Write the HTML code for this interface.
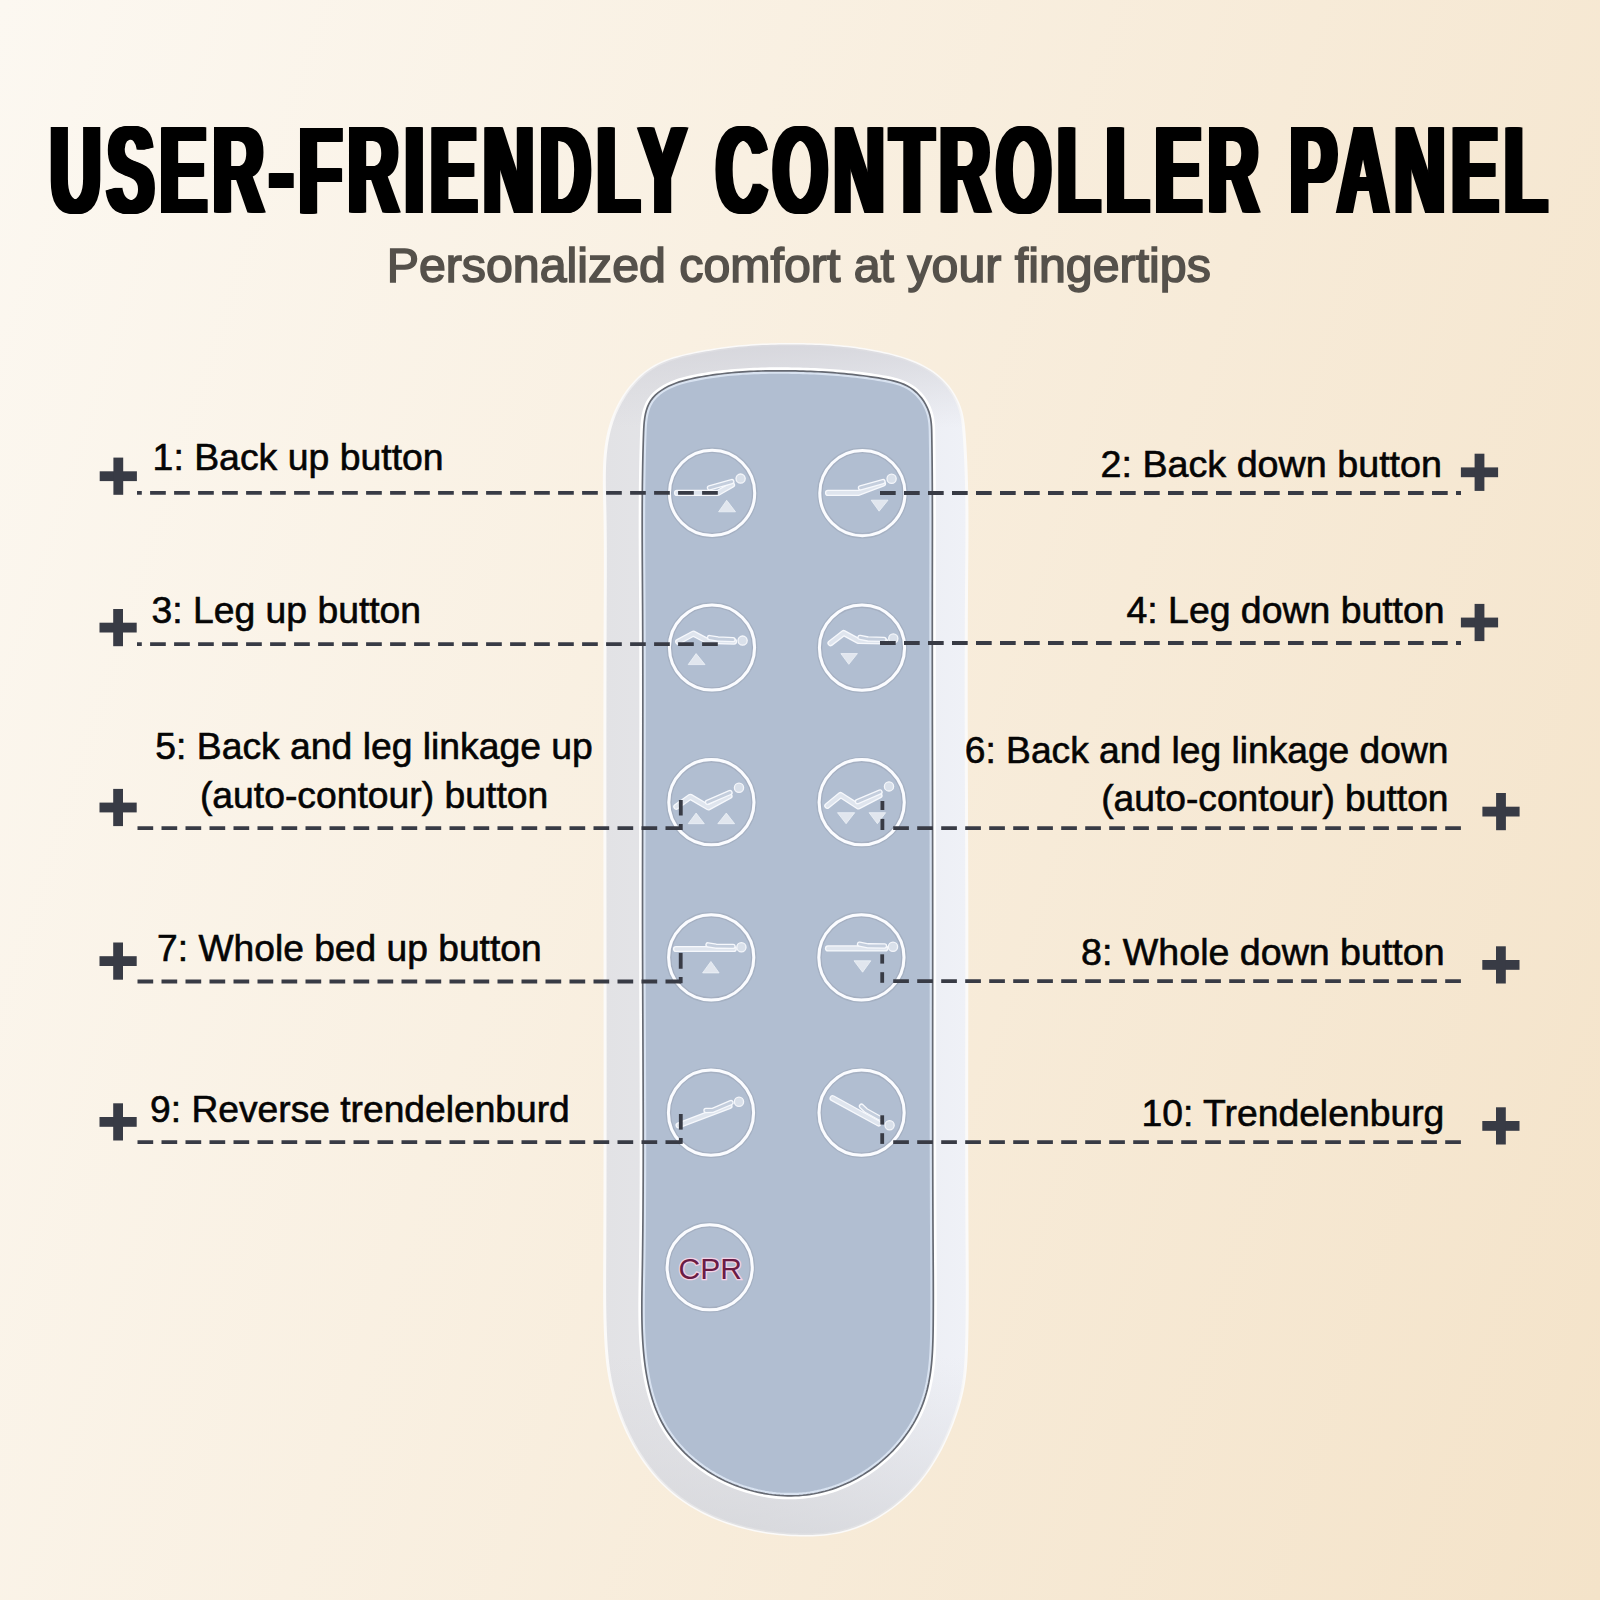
<!DOCTYPE html>
<html><head><meta charset="utf-8"><title>User-Friendly Controller Panel</title>
<style>
html,body{margin:0;padding:0;width:1600px;height:1600px;overflow:hidden}
body{background:linear-gradient(107.8deg,#fcf8f1 0%,#f4e3c9 100%);font-family:"Liberation Sans",sans-serif}
svg{position:absolute;left:0;top:0;display:block}
</style></head><body>
<svg width="1600" height="1600" viewBox="0 0 1600 1600">
<defs>
<linearGradient id="fr" x1="0" y1="0" x2="1" y2="0">
<stop offset="0" stop-color="#e2e2e5"/><stop offset="0.45" stop-color="#e6e7eb"/><stop offset="1" stop-color="#eff1f7"/>
</linearGradient>
<linearGradient id="frv" x1="0" y1="0" x2="0" y2="1">
<stop offset="0" stop-color="#d3d3d9" stop-opacity="0.8"/><stop offset="0.07" stop-color="#d6d6dc" stop-opacity="0"/>
<stop offset="0.85" stop-color="#d6d6dc" stop-opacity="0"/><stop offset="1" stop-color="#cfd0d4" stop-opacity="0.6"/>
</linearGradient>
<clipPath id="inclip"><path d="M788.05,370.84 L791.84,370.89 L795.61,370.96 L799.38,371.05 L803.15,371.15 L806.91,371.28 L810.67,371.42 L814.42,371.58 L818.17,371.77 L821.92,371.97 L825.66,372.20 L829.41,372.45 L833.16,372.72 L836.90,373.02 L840.65,373.34 L844.39,373.68 L848.14,374.05 L851.89,374.44 L855.65,374.86 L859.41,375.31 L863.17,375.78 L866.94,376.28 L870.71,376.81 L874.49,377.37 L878.27,377.96 L882.06,378.58 L885.85,379.24 L889.61,379.99 L893.33,380.84 L896.99,381.84 L900.56,383.01 L904.03,384.38 L907.38,385.99 L910.58,387.87 L913.62,390.04 L916.48,392.49 L919.14,395.21 L921.59,398.14 L923.80,401.28 L925.75,404.58 L927.43,408.02 L928.82,411.57 L929.91,415.19 L930.68,418.87 L931.19,422.59 L931.50,426.34 L931.67,430.11 L931.75,433.89 L931.82,437.67 L931.87,441.45 L931.93,445.24 L931.98,449.02 L932.02,452.80 L932.07,456.58 L932.11,460.37 L932.15,464.15 L932.18,467.93 L932.21,471.71 L932.24,475.49 L932.26,479.27 L932.29,483.05 L932.31,486.84 L932.33,490.62 L932.34,494.40 L932.36,498.18 L932.37,501.96 L932.38,505.74 L932.38,509.51 L932.39,513.29 L932.40,517.07 L932.40,520.85 L932.40,524.63 L932.40,528.41 L932.40,532.19 L932.40,535.97 L932.40,539.75 L932.39,543.52 L932.39,547.30 L932.38,551.08 L932.38,554.86 L932.37,558.64 L932.37,562.41 L932.36,566.19 L932.35,569.97 L932.35,573.75 L932.34,577.52 L932.34,581.30 L932.33,585.08 L932.33,588.86 L932.32,592.63 L932.32,596.41 L932.31,600.19 L932.31,603.97 L932.31,607.74 L932.31,611.52 L932.31,615.30 L932.30,619.07 L932.30,622.85 L932.30,626.63 L932.30,630.40 L932.30,634.18 L932.30,637.96 L932.30,641.74 L932.31,645.51 L932.31,649.29 L932.31,653.07 L932.31,656.84 L932.31,660.62 L932.32,664.40 L932.32,668.17 L932.32,671.95 L932.33,675.73 L932.33,679.50 L932.33,683.28 L932.34,687.06 L932.34,690.83 L932.35,694.61 L932.35,698.39 L932.36,702.16 L932.36,705.94 L932.37,709.72 L932.37,713.49 L932.38,717.27 L932.38,721.05 L932.39,724.82 L932.40,728.60 L932.40,732.38 L932.41,736.15 L932.42,739.93 L932.42,743.71 L932.43,747.48 L932.44,751.26 L932.44,755.04 L932.45,758.81 L932.46,762.59 L932.46,766.37 L932.47,770.14 L932.48,773.92 L932.48,777.70 L932.49,781.47 L932.50,785.25 L932.51,789.03 L932.51,792.80 L932.52,796.58 L932.53,800.36 L932.53,804.14 L932.54,807.91 L932.55,811.69 L932.56,815.47 L932.56,819.24 L932.57,823.02 L932.58,826.80 L932.58,830.58 L932.59,834.35 L932.60,838.13 L932.60,841.91 L932.61,845.69 L932.61,849.46 L932.62,853.24 L932.63,857.02 L932.63,860.80 L932.64,864.57 L932.64,868.35 L932.65,872.13 L932.65,875.91 L932.66,879.69 L932.66,883.46 L932.66,887.24 L932.67,891.02 L932.67,894.80 L932.67,898.58 L932.68,902.36 L932.68,906.14 L932.68,909.91 L932.69,913.69 L932.69,917.47 L932.69,921.25 L932.69,925.03 L932.69,928.81 L932.69,932.59 L932.69,936.37 L932.69,940.15 L932.69,943.93 L932.69,947.70 L932.69,951.48 L932.69,955.26 L932.69,959.04 L932.69,962.82 L932.69,966.60 L932.69,970.38 L932.69,974.16 L932.69,977.94 L932.69,981.72 L932.68,985.50 L932.68,989.28 L932.68,993.06 L932.68,996.84 L932.68,1000.62 L932.68,1004.40 L932.67,1008.18 L932.67,1011.96 L932.67,1015.74 L932.67,1019.52 L932.67,1023.29 L932.67,1027.07 L932.66,1030.85 L932.66,1034.63 L932.66,1038.41 L932.66,1042.19 L932.66,1045.97 L932.66,1049.75 L932.66,1053.53 L932.66,1057.31 L932.66,1061.08 L932.66,1064.86 L932.66,1068.64 L932.66,1072.42 L932.66,1076.20 L932.66,1079.98 L932.66,1083.76 L932.66,1087.53 L932.66,1091.31 L932.66,1095.09 L932.66,1098.87 L932.66,1102.64 L932.67,1106.42 L932.67,1110.20 L932.67,1113.98 L932.68,1117.75 L932.68,1121.53 L932.68,1125.31 L932.69,1129.08 L932.69,1132.86 L932.70,1136.64 L932.70,1140.41 L932.71,1144.19 L932.72,1147.96 L932.72,1151.74 L932.73,1155.51 L932.74,1159.29 L932.75,1163.06 L932.76,1166.84 L932.77,1170.61 L932.78,1174.39 L932.79,1178.16 L932.80,1181.93 L932.81,1185.71 L932.82,1189.48 L932.84,1193.25 L932.85,1197.03 L932.86,1200.80 L932.88,1204.57 L932.89,1208.34 L932.91,1212.12 L932.93,1215.89 L932.94,1219.66 L932.96,1223.43 L932.98,1227.20 L933.00,1230.97 L933.02,1234.74 L933.04,1238.51 L933.06,1242.28 L933.09,1246.05 L933.11,1249.82 L933.13,1253.59 L933.16,1257.36 L933.18,1261.13 L933.20,1264.89 L933.23,1268.67 L933.25,1272.44 L933.27,1276.21 L933.28,1279.98 L933.30,1283.76 L933.31,1287.54 L933.32,1291.32 L933.32,1295.10 L933.33,1298.89 L933.32,1302.68 L933.31,1306.47 L933.30,1310.27 L933.28,1314.07 L933.26,1317.87 L933.22,1321.68 L933.19,1325.49 L933.14,1329.31 L933.08,1333.13 L933.00,1336.95 L932.90,1340.77 L932.77,1344.59 L932.61,1348.40 L932.42,1352.20 L932.18,1356.00 L931.89,1359.78 L931.55,1363.55 L931.15,1367.31 L930.69,1371.05 L930.16,1374.77 L929.56,1378.47 L928.88,1382.15 L928.12,1385.80 L927.27,1389.43 L926.33,1393.03 L925.29,1396.59 L924.15,1400.13 L922.91,1403.63 L921.55,1407.10 L920.10,1410.52 L918.54,1413.91 L916.89,1417.26 L915.13,1420.56 L913.29,1423.82 L911.35,1427.03 L909.32,1430.19 L907.20,1433.30 L905.00,1436.36 L902.72,1439.36 L900.35,1442.31 L897.91,1445.19 L895.39,1448.02 L892.79,1450.79 L890.12,1453.49 L887.39,1456.13 L884.58,1458.69 L881.71,1461.19 L878.78,1463.62 L875.78,1465.98 L872.73,1468.26 L869.62,1470.46 L866.45,1472.58 L863.23,1474.63 L859.97,1476.59 L856.65,1478.47 L853.29,1480.26 L849.89,1481.96 L846.44,1483.57 L842.96,1485.09 L839.44,1486.52 L835.88,1487.85 L832.29,1489.09 L828.68,1490.23 L825.03,1491.26 L821.36,1492.19 L817.67,1493.02 L813.95,1493.74 L810.22,1494.36 L806.47,1494.86 L802.70,1495.26 L798.93,1495.55 L795.14,1495.74 L791.35,1495.83 L787.56,1495.81 L783.76,1495.69 L779.97,1495.47 L776.18,1495.15 L772.40,1494.74 L768.63,1494.23 L764.87,1493.62 L761.12,1492.91 L757.39,1492.12 L753.68,1491.23 L749.99,1490.24 L746.33,1489.17 L742.70,1488.01 L739.09,1486.76 L735.52,1485.42 L731.98,1484.00 L728.48,1482.49 L725.02,1480.90 L721.61,1479.22 L718.23,1477.46 L714.91,1475.62 L711.64,1473.70 L708.42,1471.71 L705.26,1469.63 L702.15,1467.48 L699.11,1465.25 L696.12,1462.95 L693.21,1460.58 L690.36,1458.13 L687.59,1455.61 L684.89,1453.03 L682.26,1450.37 L679.72,1447.65 L677.25,1444.85 L674.87,1442.00 L672.58,1439.07 L670.37,1436.09 L668.26,1433.04 L666.24,1429.93 L664.32,1426.76 L662.50,1423.53 L660.78,1420.25 L659.15,1416.90 L657.63,1413.51 L656.20,1410.07 L654.85,1406.58 L653.60,1403.05 L652.43,1399.47 L651.34,1395.87 L650.33,1392.22 L649.39,1388.55 L648.52,1384.85 L647.73,1381.13 L647.00,1377.39 L646.33,1373.62 L645.72,1369.84 L645.17,1366.06 L644.67,1362.26 L644.22,1358.45 L643.82,1354.65 L643.47,1350.84 L643.16,1347.04 L642.88,1343.24 L642.65,1339.44 L642.45,1335.65 L642.28,1331.86 L642.14,1328.07 L642.03,1324.29 L641.95,1320.51 L641.89,1316.73 L641.85,1312.95 L641.84,1309.17 L641.84,1305.40 L641.85,1301.62 L641.89,1297.85 L641.93,1294.08 L641.98,1290.31 L642.04,1286.54 L642.10,1282.77 L642.16,1279.01 L642.23,1275.24 L642.29,1271.47 L642.36,1267.70 L642.42,1263.93 L642.47,1260.16 L642.53,1256.39 L642.58,1252.62 L642.63,1248.85 L642.68,1245.08 L642.72,1241.31 L642.77,1237.54 L642.81,1233.77 L642.85,1230.00 L642.88,1226.22 L642.92,1222.45 L642.95,1218.68 L642.98,1214.91 L643.01,1211.13 L643.04,1207.36 L643.06,1203.59 L643.08,1199.81 L643.11,1196.04 L643.13,1192.27 L643.14,1188.49 L643.16,1184.72 L643.18,1180.95 L643.19,1177.17 L643.20,1173.40 L643.21,1169.62 L643.22,1165.85 L643.23,1162.07 L643.23,1158.30 L643.24,1154.52 L643.24,1150.74 L643.24,1146.97 L643.24,1143.19 L643.24,1139.42 L643.24,1135.64 L643.24,1131.86 L643.24,1128.09 L643.23,1124.31 L643.23,1120.53 L643.22,1116.76 L643.21,1112.98 L643.20,1109.20 L643.19,1105.42 L643.18,1101.65 L643.17,1097.87 L643.16,1094.09 L643.15,1090.31 L643.14,1086.53 L643.12,1082.76 L643.11,1078.98 L643.09,1075.20 L643.08,1071.42 L643.06,1067.64 L643.05,1063.86 L643.03,1060.08 L643.02,1056.31 L643.00,1052.53 L642.98,1048.75 L642.96,1044.97 L642.95,1041.19 L642.93,1037.41 L642.91,1033.63 L642.89,1029.85 L642.88,1026.07 L642.86,1022.29 L642.84,1018.51 L642.82,1014.74 L642.80,1010.96 L642.79,1007.18 L642.77,1003.40 L642.75,999.62 L642.74,995.84 L642.72,992.06 L642.70,988.28 L642.69,984.50 L642.67,980.72 L642.66,976.94 L642.65,973.16 L642.63,969.38 L642.62,965.60 L642.61,961.82 L642.59,958.04 L642.58,954.26 L642.57,950.48 L642.56,946.70 L642.56,942.92 L642.55,939.14 L642.54,935.36 L642.54,931.58 L642.53,927.80 L642.53,924.03 L642.52,920.25 L642.52,916.47 L642.52,912.69 L642.52,908.91 L642.52,905.13 L642.52,901.35 L642.52,897.57 L642.52,893.79 L642.52,890.01 L642.52,886.23 L642.53,882.45 L642.53,878.67 L642.53,874.90 L642.54,871.12 L642.54,867.34 L642.55,863.56 L642.55,859.78 L642.56,856.00 L642.57,852.22 L642.57,848.44 L642.58,844.67 L642.59,840.89 L642.60,837.11 L642.60,833.33 L642.61,829.55 L642.62,825.77 L642.63,822.00 L642.64,818.22 L642.65,814.44 L642.65,810.66 L642.66,806.88 L642.67,803.11 L642.68,799.33 L642.69,795.55 L642.70,791.77 L642.71,788.00 L642.72,784.22 L642.73,780.44 L642.73,776.66 L642.74,772.89 L642.75,769.11 L642.76,765.33 L642.77,761.55 L642.77,757.78 L642.78,754.00 L642.79,750.22 L642.79,746.45 L642.80,742.67 L642.81,738.89 L642.81,735.12 L642.82,731.34 L642.82,727.56 L642.83,723.79 L642.83,720.01 L642.83,716.23 L642.84,712.46 L642.84,708.68 L642.84,704.91 L642.84,701.13 L642.84,697.35 L642.84,693.58 L642.84,689.80 L642.84,686.03 L642.83,682.25 L642.83,678.48 L642.83,674.70 L642.82,670.93 L642.82,667.15 L642.81,663.38 L642.80,659.60 L642.80,655.83 L642.79,652.05 L642.78,648.28 L642.77,644.50 L642.75,640.73 L642.74,636.96 L642.73,633.18 L642.71,629.41 L642.69,625.63 L642.68,621.86 L642.66,618.09 L642.64,614.31 L642.62,610.54 L642.60,606.77 L642.57,602.99 L642.55,599.22 L642.52,595.45 L642.50,591.67 L642.47,587.90 L642.45,584.13 L642.42,580.35 L642.40,576.58 L642.37,572.81 L642.35,569.03 L642.32,565.26 L642.30,561.48 L642.28,557.71 L642.26,553.93 L642.24,550.15 L642.23,546.38 L642.21,542.60 L642.20,538.82 L642.19,535.04 L642.18,531.26 L642.18,527.48 L642.18,523.70 L642.18,519.92 L642.19,516.13 L642.20,512.35 L642.21,508.57 L642.23,504.78 L642.25,500.99 L642.28,497.20 L642.31,493.41 L642.34,489.62 L642.38,485.83 L642.43,482.04 L642.48,478.24 L642.54,474.45 L642.60,470.65 L642.67,466.85 L642.74,463.05 L642.82,459.25 L642.91,455.45 L643.00,451.64 L643.11,447.84 L643.22,444.03 L643.33,440.22 L643.45,436.40 L643.59,432.59 L643.75,428.79 L643.98,425.01 L644.31,421.27 L644.79,417.60 L645.45,414.01 L646.33,410.52 L647.46,407.14 L648.89,403.90 L650.66,400.82 L652.80,397.90 L655.33,395.18 L658.22,392.65 L661.38,390.33 L664.76,388.21 L668.29,386.32 L671.90,384.66 L675.57,383.20 L679.28,381.93 L683.01,380.82 L686.77,379.85 L690.54,378.98 L694.31,378.19 L698.06,377.45 L701.80,376.76 L705.53,376.12 L709.25,375.52 L712.96,374.96 L716.67,374.44 L720.37,373.97 L724.07,373.53 L727.78,373.13 L731.49,372.76 L735.20,372.43 L738.92,372.14 L742.66,371.87 L746.40,371.64 L750.16,371.44 L753.93,371.27 L757.71,371.13 L761.49,371.01 L765.28,370.92 L769.08,370.85 L772.88,370.81 L776.68,370.79 L780.47,370.78 L784.27,370.80Z"/></clipPath>
</defs>
<defs><text id="tt" x="0" y="213.4" font-family="Liberation Sans" font-weight="bold" font-size="124.2" letter-spacing="10.0" transform="translate(46.6,0) scale(0.57,1)">USER-FRIENDLY CONTROLLER PANEL</text></defs>
<use href="#tt"/><use href="#tt" x="1"/><use href="#tt" x="2"/><use href="#tt" x="3"/><use href="#tt" x="4"/><use href="#tt" x="5"/><use href="#tt" x="6"/><use href="#tt" x="7"/>
<text x="386.7" y="282.3" font-family="Liberation Sans" font-size="48.3" fill="#55514b" stroke="#55514b" stroke-width="1.6">Personalized comfort at your fingertips</text>
<path d="M787.16,344.48 L791.21,344.46 L795.26,344.47 L799.30,344.51 L803.34,344.56 L807.37,344.65 L811.39,344.77 L815.41,344.92 L819.43,345.09 L823.45,345.31 L827.47,345.55 L831.48,345.84 L835.50,346.16 L839.51,346.51 L843.53,346.91 L847.55,347.35 L851.58,347.84 L855.60,348.36 L859.64,348.94 L863.68,349.55 L867.72,350.22 L871.77,350.94 L875.83,351.70 L879.90,352.52 L883.98,353.40 L888.06,354.33 L892.12,355.34 L896.17,356.42 L900.19,357.58 L904.17,358.84 L908.10,360.19 L911.97,361.65 L915.78,363.22 L919.51,364.91 L923.15,366.74 L926.69,368.69 L930.14,370.79 L933.46,373.05 L936.66,375.46 L939.73,378.03 L942.65,380.78 L945.42,383.71 L948.03,386.80 L950.46,390.05 L952.71,393.44 L954.77,396.96 L956.63,400.59 L958.27,404.31 L959.69,408.12 L960.88,412.00 L961.83,415.94 L962.57,419.91 L963.15,423.93 L963.59,427.97 L963.95,432.03 L964.26,436.09 L964.54,440.16 L964.81,444.23 L965.06,448.29 L965.28,452.36 L965.49,456.42 L965.69,460.49 L965.86,464.56 L966.03,468.62 L966.17,472.69 L966.30,476.76 L966.42,480.82 L966.52,484.89 L966.61,488.96 L966.69,493.03 L966.76,497.09 L966.82,501.16 L966.86,505.23 L966.90,509.30 L966.93,513.37 L966.94,517.43 L966.95,521.50 L966.96,525.57 L966.95,529.64 L966.94,533.71 L966.93,537.78 L966.91,541.84 L966.89,545.91 L966.86,549.98 L966.83,554.05 L966.79,558.12 L966.76,562.19 L966.72,566.25 L966.69,570.32 L966.65,574.39 L966.62,578.46 L966.58,582.53 L966.55,586.60 L966.52,590.67 L966.49,594.74 L966.46,598.80 L966.43,602.87 L966.41,606.94 L966.39,611.01 L966.36,615.08 L966.34,619.15 L966.33,623.22 L966.31,627.28 L966.29,631.35 L966.28,635.42 L966.27,639.49 L966.25,643.56 L966.24,647.63 L966.23,651.70 L966.23,655.77 L966.22,659.83 L966.21,663.90 L966.21,667.97 L966.20,672.04 L966.20,676.11 L966.20,680.18 L966.20,684.25 L966.20,688.32 L966.20,692.38 L966.20,696.45 L966.21,700.52 L966.21,704.59 L966.21,708.66 L966.22,712.73 L966.23,716.80 L966.23,720.86 L966.24,724.93 L966.25,729.00 L966.26,733.07 L966.27,737.14 L966.28,741.21 L966.29,745.28 L966.30,749.35 L966.31,753.41 L966.32,757.48 L966.33,761.55 L966.35,765.62 L966.36,769.69 L966.37,773.76 L966.39,777.83 L966.40,781.89 L966.42,785.96 L966.43,790.03 L966.45,794.10 L966.46,798.17 L966.47,802.24 L966.49,806.31 L966.50,810.38 L966.52,814.44 L966.53,818.51 L966.55,822.58 L966.56,826.65 L966.58,830.72 L966.59,834.79 L966.61,838.86 L966.62,842.92 L966.64,846.99 L966.65,851.06 L966.66,855.13 L966.68,859.20 L966.69,863.27 L966.70,867.34 L966.71,871.41 L966.72,875.47 L966.73,879.54 L966.75,883.61 L966.76,887.68 L966.76,891.75 L966.77,895.82 L966.78,899.89 L966.79,903.95 L966.80,908.02 L966.80,912.09 L966.81,916.16 L966.81,920.23 L966.82,924.30 L966.82,928.37 L966.82,932.43 L966.82,936.50 L966.83,940.57 L966.83,944.64 L966.83,948.71 L966.83,952.78 L966.83,956.85 L966.82,960.91 L966.82,964.98 L966.82,969.05 L966.82,973.12 L966.82,977.19 L966.81,981.26 L966.81,985.33 L966.81,989.39 L966.80,993.46 L966.80,997.53 L966.79,1001.60 L966.79,1005.67 L966.78,1009.74 L966.78,1013.81 L966.77,1017.87 L966.77,1021.94 L966.76,1026.01 L966.76,1030.08 L966.75,1034.15 L966.75,1038.22 L966.74,1042.29 L966.74,1046.36 L966.73,1050.42 L966.73,1054.49 L966.72,1058.56 L966.72,1062.63 L966.71,1066.70 L966.71,1070.77 L966.71,1074.84 L966.70,1078.90 L966.70,1082.97 L966.69,1087.04 L966.69,1091.11 L966.69,1095.18 L966.69,1099.25 L966.68,1103.32 L966.68,1107.38 L966.68,1111.45 L966.68,1115.52 L966.68,1119.59 L966.68,1123.66 L966.68,1127.73 L966.68,1131.80 L966.69,1135.87 L966.69,1139.93 L966.69,1144.00 L966.69,1148.07 L966.70,1152.14 L966.70,1156.21 L966.71,1160.28 L966.72,1164.35 L966.72,1168.41 L966.73,1172.48 L966.74,1176.55 L966.75,1180.62 L966.76,1184.69 L966.77,1188.76 L966.79,1192.83 L966.80,1196.90 L966.81,1200.96 L966.83,1205.03 L966.85,1209.10 L966.86,1213.17 L966.88,1217.24 L966.90,1221.31 L966.92,1225.38 L966.94,1229.45 L966.97,1233.51 L966.99,1237.58 L967.02,1241.65 L967.04,1245.72 L967.07,1249.79 L967.10,1253.86 L967.12,1257.93 L967.15,1262.00 L967.17,1266.07 L967.19,1270.13 L967.21,1274.20 L967.22,1278.27 L967.24,1282.34 L967.24,1286.41 L967.25,1290.48 L967.25,1294.55 L967.24,1298.62 L967.22,1302.69 L967.21,1306.76 L967.18,1310.82 L967.14,1314.89 L967.10,1318.96 L967.05,1323.03 L966.99,1327.10 L966.92,1331.17 L966.84,1335.24 L966.75,1339.31 L966.65,1343.38 L966.53,1347.45 L966.39,1351.51 L966.21,1355.57 L965.99,1359.63 L965.73,1363.68 L965.40,1367.73 L965.02,1371.76 L964.56,1375.79 L964.02,1379.80 L963.40,1383.80 L962.68,1387.79 L961.86,1391.76 L960.93,1395.72 L959.91,1399.66 L958.80,1403.58 L957.62,1407.48 L956.36,1411.37 L955.05,1415.24 L953.67,1419.09 L952.24,1422.92 L950.76,1426.73 L949.21,1430.52 L947.60,1434.27 L945.94,1438.00 L944.21,1441.69 L942.41,1445.35 L940.55,1448.98 L938.63,1452.56 L936.64,1456.11 L934.57,1459.61 L932.44,1463.06 L930.23,1466.47 L927.95,1469.83 L925.60,1473.14 L923.16,1476.39 L920.66,1479.59 L918.07,1482.73 L915.40,1485.80 L912.65,1488.82 L909.82,1491.77 L906.90,1494.65 L903.91,1497.45 L900.84,1500.19 L897.70,1502.84 L894.48,1505.41 L891.20,1507.90 L887.86,1510.29 L884.46,1512.60 L880.99,1514.80 L877.48,1516.91 L873.91,1518.91 L870.29,1520.80 L866.63,1522.59 L862.92,1524.26 L859.17,1525.81 L855.39,1527.24 L851.57,1528.54 L847.72,1529.72 L843.84,1530.76 L839.94,1531.68 L836.01,1532.47 L832.06,1533.14 L828.09,1533.70 L824.10,1534.16 L820.09,1534.51 L816.06,1534.77 L812.02,1534.95 L807.97,1535.04 L803.90,1535.05 L799.82,1535.00 L795.73,1534.87 L791.63,1534.69 L787.53,1534.43 L783.43,1534.11 L779.33,1533.72 L775.23,1533.27 L771.13,1532.75 L767.04,1532.15 L762.96,1531.49 L758.89,1530.76 L754.84,1529.95 L750.80,1529.08 L746.78,1528.13 L742.79,1527.11 L738.81,1526.02 L734.87,1524.86 L730.95,1523.62 L727.06,1522.30 L723.20,1520.91 L719.38,1519.45 L715.60,1517.90 L711.85,1516.28 L708.15,1514.59 L704.49,1512.81 L700.88,1510.96 L697.32,1509.03 L693.81,1507.01 L690.36,1504.92 L686.96,1502.75 L683.62,1500.49 L680.34,1498.15 L677.13,1495.73 L673.98,1493.23 L670.90,1490.64 L667.89,1487.97 L664.95,1485.21 L662.08,1482.38 L659.28,1479.47 L656.55,1476.48 L653.90,1473.43 L651.31,1470.30 L648.80,1467.11 L646.36,1463.86 L643.99,1460.55 L641.69,1457.18 L639.47,1453.75 L637.31,1450.28 L635.23,1446.75 L633.22,1443.18 L631.28,1439.57 L629.41,1435.92 L627.61,1432.23 L625.89,1428.50 L624.23,1424.75 L622.65,1420.96 L621.14,1417.15 L619.71,1413.32 L618.34,1409.46 L617.05,1405.59 L615.83,1401.69 L614.68,1397.78 L613.60,1393.85 L612.59,1389.91 L611.66,1385.95 L610.80,1381.98 L610.01,1377.99 L609.29,1374.00 L608.64,1369.99 L608.07,1365.98 L607.56,1361.95 L607.13,1357.93 L606.75,1353.89 L606.42,1349.85 L606.14,1345.81 L605.89,1341.76 L605.67,1337.71 L605.48,1333.65 L605.31,1329.60 L605.17,1325.54 L605.04,1321.48 L604.94,1317.42 L604.85,1313.35 L604.78,1309.29 L604.73,1305.22 L604.69,1301.15 L604.66,1297.09 L604.64,1293.02 L604.63,1288.95 L604.63,1284.87 L604.64,1280.80 L604.65,1276.73 L604.67,1272.66 L604.69,1268.58 L604.71,1264.51 L604.73,1260.44 L604.75,1256.37 L604.77,1252.30 L604.78,1248.22 L604.80,1244.15 L604.82,1240.08 L604.83,1236.01 L604.85,1231.94 L604.87,1227.87 L604.88,1223.80 L604.89,1219.73 L604.91,1215.66 L604.92,1211.59 L604.93,1207.52 L604.95,1203.45 L604.96,1199.38 L604.97,1195.31 L604.98,1191.24 L604.99,1187.17 L605.00,1183.10 L605.01,1179.03 L605.02,1174.96 L605.02,1170.89 L605.03,1166.82 L605.04,1162.76 L605.05,1158.69 L605.05,1154.62 L605.06,1150.55 L605.07,1146.48 L605.07,1142.42 L605.08,1138.35 L605.08,1134.28 L605.09,1130.21 L605.09,1126.14 L605.09,1122.08 L605.10,1118.01 L605.10,1113.94 L605.10,1109.87 L605.11,1105.81 L605.11,1101.74 L605.11,1097.67 L605.11,1093.60 L605.11,1089.54 L605.11,1085.47 L605.11,1081.40 L605.11,1077.34 L605.11,1073.27 L605.11,1069.20 L605.11,1065.13 L605.11,1061.07 L605.11,1057.00 L605.11,1052.93 L605.11,1048.87 L605.11,1044.80 L605.11,1040.73 L605.10,1036.66 L605.10,1032.60 L605.10,1028.53 L605.10,1024.46 L605.09,1020.39 L605.09,1016.33 L605.09,1012.26 L605.08,1008.19 L605.08,1004.12 L605.08,1000.06 L605.07,995.99 L605.07,991.92 L605.07,987.85 L605.06,983.79 L605.06,979.72 L605.05,975.65 L605.05,971.58 L605.05,967.51 L605.04,963.45 L605.04,959.38 L605.03,955.31 L605.03,951.24 L605.02,947.17 L605.02,943.10 L605.01,939.03 L605.01,934.96 L605.00,930.89 L605.00,926.82 L604.99,922.75 L604.99,918.68 L604.99,914.62 L604.98,910.55 L604.98,906.48 L604.97,902.40 L604.97,898.33 L604.96,894.26 L604.96,890.19 L604.95,886.12 L604.95,882.05 L604.94,877.98 L604.94,873.91 L604.94,869.84 L604.93,865.77 L604.93,861.70 L604.92,857.63 L604.92,853.56 L604.92,849.49 L604.91,845.42 L604.91,841.35 L604.91,837.27 L604.90,833.20 L604.90,829.13 L604.90,825.06 L604.90,820.99 L604.89,816.92 L604.89,812.85 L604.89,808.78 L604.89,804.71 L604.89,800.64 L604.89,796.57 L604.88,792.50 L604.88,788.43 L604.88,784.36 L604.88,780.29 L604.88,776.22 L604.88,772.15 L604.88,768.08 L604.88,764.01 L604.89,759.94 L604.89,755.87 L604.89,751.80 L604.89,747.73 L604.89,743.66 L604.90,739.59 L604.90,735.52 L604.90,731.45 L604.90,727.39 L604.91,723.32 L604.91,719.25 L604.92,715.18 L604.92,711.11 L604.93,707.05 L604.93,702.98 L604.94,698.91 L604.95,694.85 L604.95,690.78 L604.96,686.71 L604.97,682.65 L604.98,678.58 L604.99,674.51 L604.99,670.45 L605.00,666.38 L605.01,662.32 L605.02,658.25 L605.04,654.19 L605.05,650.13 L605.06,646.06 L605.07,642.00 L605.08,637.93 L605.10,633.87 L605.11,629.81 L605.13,625.75 L605.14,621.68 L605.16,617.62 L605.17,613.56 L605.19,609.50 L605.21,605.44 L605.22,601.38 L605.24,597.32 L605.26,593.26 L605.27,589.20 L605.29,585.14 L605.30,581.08 L605.31,577.01 L605.32,572.95 L605.33,568.89 L605.33,564.82 L605.33,560.76 L605.33,556.69 L605.32,552.62 L605.31,548.55 L605.29,544.47 L605.27,540.40 L605.24,536.32 L605.20,532.24 L605.16,528.16 L605.11,524.07 L605.05,519.98 L604.99,515.89 L604.91,511.80 L604.83,507.70 L604.74,503.60 L604.64,499.49 L604.55,495.39 L604.46,491.28 L604.39,487.17 L604.35,483.07 L604.33,478.97 L604.35,474.88 L604.42,470.80 L604.54,466.73 L604.72,462.66 L604.97,458.61 L605.29,454.57 L605.70,450.55 L606.20,446.54 L606.79,442.55 L607.48,438.59 L608.29,434.64 L609.22,430.71 L610.27,426.81 L611.46,422.94 L612.78,419.09 L614.24,415.29 L615.83,411.53 L617.56,407.83 L619.41,404.20 L621.40,400.63 L623.51,397.14 L625.76,393.75 L628.12,390.45 L630.62,387.25 L633.24,384.16 L635.98,381.20 L638.84,378.36 L641.83,375.67 L644.93,373.11 L648.16,370.71 L651.50,368.47 L654.95,366.40 L658.53,364.51 L662.21,362.79 L665.98,361.24 L669.84,359.83 L673.77,358.55 L677.75,357.39 L681.78,356.33 L685.84,355.36 L689.91,354.46 L693.99,353.61 L698.05,352.81 L702.11,352.04 L706.15,351.32 L710.19,350.63 L714.21,349.98 L718.24,349.36 L722.26,348.79 L726.28,348.25 L730.30,347.75 L734.33,347.29 L738.36,346.86 L742.40,346.48 L746.45,346.13 L750.50,345.82 L754.57,345.55 L758.64,345.31 L762.71,345.10 L766.79,344.93 L770.87,344.79 L774.95,344.67 L779.02,344.58 L783.09,344.52Z" fill="url(#fr)" stroke="#fbfaf9" stroke-width="3"/>
<path d="M787.16,344.48 L791.21,344.46 L795.26,344.47 L799.30,344.51 L803.34,344.56 L807.37,344.65 L811.39,344.77 L815.41,344.92 L819.43,345.09 L823.45,345.31 L827.47,345.55 L831.48,345.84 L835.50,346.16 L839.51,346.51 L843.53,346.91 L847.55,347.35 L851.58,347.84 L855.60,348.36 L859.64,348.94 L863.68,349.55 L867.72,350.22 L871.77,350.94 L875.83,351.70 L879.90,352.52 L883.98,353.40 L888.06,354.33 L892.12,355.34 L896.17,356.42 L900.19,357.58 L904.17,358.84 L908.10,360.19 L911.97,361.65 L915.78,363.22 L919.51,364.91 L923.15,366.74 L926.69,368.69 L930.14,370.79 L933.46,373.05 L936.66,375.46 L939.73,378.03 L942.65,380.78 L945.42,383.71 L948.03,386.80 L950.46,390.05 L952.71,393.44 L954.77,396.96 L956.63,400.59 L958.27,404.31 L959.69,408.12 L960.88,412.00 L961.83,415.94 L962.57,419.91 L963.15,423.93 L963.59,427.97 L963.95,432.03 L964.26,436.09 L964.54,440.16 L964.81,444.23 L965.06,448.29 L965.28,452.36 L965.49,456.42 L965.69,460.49 L965.86,464.56 L966.03,468.62 L966.17,472.69 L966.30,476.76 L966.42,480.82 L966.52,484.89 L966.61,488.96 L966.69,493.03 L966.76,497.09 L966.82,501.16 L966.86,505.23 L966.90,509.30 L966.93,513.37 L966.94,517.43 L966.95,521.50 L966.96,525.57 L966.95,529.64 L966.94,533.71 L966.93,537.78 L966.91,541.84 L966.89,545.91 L966.86,549.98 L966.83,554.05 L966.79,558.12 L966.76,562.19 L966.72,566.25 L966.69,570.32 L966.65,574.39 L966.62,578.46 L966.58,582.53 L966.55,586.60 L966.52,590.67 L966.49,594.74 L966.46,598.80 L966.43,602.87 L966.41,606.94 L966.39,611.01 L966.36,615.08 L966.34,619.15 L966.33,623.22 L966.31,627.28 L966.29,631.35 L966.28,635.42 L966.27,639.49 L966.25,643.56 L966.24,647.63 L966.23,651.70 L966.23,655.77 L966.22,659.83 L966.21,663.90 L966.21,667.97 L966.20,672.04 L966.20,676.11 L966.20,680.18 L966.20,684.25 L966.20,688.32 L966.20,692.38 L966.20,696.45 L966.21,700.52 L966.21,704.59 L966.21,708.66 L966.22,712.73 L966.23,716.80 L966.23,720.86 L966.24,724.93 L966.25,729.00 L966.26,733.07 L966.27,737.14 L966.28,741.21 L966.29,745.28 L966.30,749.35 L966.31,753.41 L966.32,757.48 L966.33,761.55 L966.35,765.62 L966.36,769.69 L966.37,773.76 L966.39,777.83 L966.40,781.89 L966.42,785.96 L966.43,790.03 L966.45,794.10 L966.46,798.17 L966.47,802.24 L966.49,806.31 L966.50,810.38 L966.52,814.44 L966.53,818.51 L966.55,822.58 L966.56,826.65 L966.58,830.72 L966.59,834.79 L966.61,838.86 L966.62,842.92 L966.64,846.99 L966.65,851.06 L966.66,855.13 L966.68,859.20 L966.69,863.27 L966.70,867.34 L966.71,871.41 L966.72,875.47 L966.73,879.54 L966.75,883.61 L966.76,887.68 L966.76,891.75 L966.77,895.82 L966.78,899.89 L966.79,903.95 L966.80,908.02 L966.80,912.09 L966.81,916.16 L966.81,920.23 L966.82,924.30 L966.82,928.37 L966.82,932.43 L966.82,936.50 L966.83,940.57 L966.83,944.64 L966.83,948.71 L966.83,952.78 L966.83,956.85 L966.82,960.91 L966.82,964.98 L966.82,969.05 L966.82,973.12 L966.82,977.19 L966.81,981.26 L966.81,985.33 L966.81,989.39 L966.80,993.46 L966.80,997.53 L966.79,1001.60 L966.79,1005.67 L966.78,1009.74 L966.78,1013.81 L966.77,1017.87 L966.77,1021.94 L966.76,1026.01 L966.76,1030.08 L966.75,1034.15 L966.75,1038.22 L966.74,1042.29 L966.74,1046.36 L966.73,1050.42 L966.73,1054.49 L966.72,1058.56 L966.72,1062.63 L966.71,1066.70 L966.71,1070.77 L966.71,1074.84 L966.70,1078.90 L966.70,1082.97 L966.69,1087.04 L966.69,1091.11 L966.69,1095.18 L966.69,1099.25 L966.68,1103.32 L966.68,1107.38 L966.68,1111.45 L966.68,1115.52 L966.68,1119.59 L966.68,1123.66 L966.68,1127.73 L966.68,1131.80 L966.69,1135.87 L966.69,1139.93 L966.69,1144.00 L966.69,1148.07 L966.70,1152.14 L966.70,1156.21 L966.71,1160.28 L966.72,1164.35 L966.72,1168.41 L966.73,1172.48 L966.74,1176.55 L966.75,1180.62 L966.76,1184.69 L966.77,1188.76 L966.79,1192.83 L966.80,1196.90 L966.81,1200.96 L966.83,1205.03 L966.85,1209.10 L966.86,1213.17 L966.88,1217.24 L966.90,1221.31 L966.92,1225.38 L966.94,1229.45 L966.97,1233.51 L966.99,1237.58 L967.02,1241.65 L967.04,1245.72 L967.07,1249.79 L967.10,1253.86 L967.12,1257.93 L967.15,1262.00 L967.17,1266.07 L967.19,1270.13 L967.21,1274.20 L967.22,1278.27 L967.24,1282.34 L967.24,1286.41 L967.25,1290.48 L967.25,1294.55 L967.24,1298.62 L967.22,1302.69 L967.21,1306.76 L967.18,1310.82 L967.14,1314.89 L967.10,1318.96 L967.05,1323.03 L966.99,1327.10 L966.92,1331.17 L966.84,1335.24 L966.75,1339.31 L966.65,1343.38 L966.53,1347.45 L966.39,1351.51 L966.21,1355.57 L965.99,1359.63 L965.73,1363.68 L965.40,1367.73 L965.02,1371.76 L964.56,1375.79 L964.02,1379.80 L963.40,1383.80 L962.68,1387.79 L961.86,1391.76 L960.93,1395.72 L959.91,1399.66 L958.80,1403.58 L957.62,1407.48 L956.36,1411.37 L955.05,1415.24 L953.67,1419.09 L952.24,1422.92 L950.76,1426.73 L949.21,1430.52 L947.60,1434.27 L945.94,1438.00 L944.21,1441.69 L942.41,1445.35 L940.55,1448.98 L938.63,1452.56 L936.64,1456.11 L934.57,1459.61 L932.44,1463.06 L930.23,1466.47 L927.95,1469.83 L925.60,1473.14 L923.16,1476.39 L920.66,1479.59 L918.07,1482.73 L915.40,1485.80 L912.65,1488.82 L909.82,1491.77 L906.90,1494.65 L903.91,1497.45 L900.84,1500.19 L897.70,1502.84 L894.48,1505.41 L891.20,1507.90 L887.86,1510.29 L884.46,1512.60 L880.99,1514.80 L877.48,1516.91 L873.91,1518.91 L870.29,1520.80 L866.63,1522.59 L862.92,1524.26 L859.17,1525.81 L855.39,1527.24 L851.57,1528.54 L847.72,1529.72 L843.84,1530.76 L839.94,1531.68 L836.01,1532.47 L832.06,1533.14 L828.09,1533.70 L824.10,1534.16 L820.09,1534.51 L816.06,1534.77 L812.02,1534.95 L807.97,1535.04 L803.90,1535.05 L799.82,1535.00 L795.73,1534.87 L791.63,1534.69 L787.53,1534.43 L783.43,1534.11 L779.33,1533.72 L775.23,1533.27 L771.13,1532.75 L767.04,1532.15 L762.96,1531.49 L758.89,1530.76 L754.84,1529.95 L750.80,1529.08 L746.78,1528.13 L742.79,1527.11 L738.81,1526.02 L734.87,1524.86 L730.95,1523.62 L727.06,1522.30 L723.20,1520.91 L719.38,1519.45 L715.60,1517.90 L711.85,1516.28 L708.15,1514.59 L704.49,1512.81 L700.88,1510.96 L697.32,1509.03 L693.81,1507.01 L690.36,1504.92 L686.96,1502.75 L683.62,1500.49 L680.34,1498.15 L677.13,1495.73 L673.98,1493.23 L670.90,1490.64 L667.89,1487.97 L664.95,1485.21 L662.08,1482.38 L659.28,1479.47 L656.55,1476.48 L653.90,1473.43 L651.31,1470.30 L648.80,1467.11 L646.36,1463.86 L643.99,1460.55 L641.69,1457.18 L639.47,1453.75 L637.31,1450.28 L635.23,1446.75 L633.22,1443.18 L631.28,1439.57 L629.41,1435.92 L627.61,1432.23 L625.89,1428.50 L624.23,1424.75 L622.65,1420.96 L621.14,1417.15 L619.71,1413.32 L618.34,1409.46 L617.05,1405.59 L615.83,1401.69 L614.68,1397.78 L613.60,1393.85 L612.59,1389.91 L611.66,1385.95 L610.80,1381.98 L610.01,1377.99 L609.29,1374.00 L608.64,1369.99 L608.07,1365.98 L607.56,1361.95 L607.13,1357.93 L606.75,1353.89 L606.42,1349.85 L606.14,1345.81 L605.89,1341.76 L605.67,1337.71 L605.48,1333.65 L605.31,1329.60 L605.17,1325.54 L605.04,1321.48 L604.94,1317.42 L604.85,1313.35 L604.78,1309.29 L604.73,1305.22 L604.69,1301.15 L604.66,1297.09 L604.64,1293.02 L604.63,1288.95 L604.63,1284.87 L604.64,1280.80 L604.65,1276.73 L604.67,1272.66 L604.69,1268.58 L604.71,1264.51 L604.73,1260.44 L604.75,1256.37 L604.77,1252.30 L604.78,1248.22 L604.80,1244.15 L604.82,1240.08 L604.83,1236.01 L604.85,1231.94 L604.87,1227.87 L604.88,1223.80 L604.89,1219.73 L604.91,1215.66 L604.92,1211.59 L604.93,1207.52 L604.95,1203.45 L604.96,1199.38 L604.97,1195.31 L604.98,1191.24 L604.99,1187.17 L605.00,1183.10 L605.01,1179.03 L605.02,1174.96 L605.02,1170.89 L605.03,1166.82 L605.04,1162.76 L605.05,1158.69 L605.05,1154.62 L605.06,1150.55 L605.07,1146.48 L605.07,1142.42 L605.08,1138.35 L605.08,1134.28 L605.09,1130.21 L605.09,1126.14 L605.09,1122.08 L605.10,1118.01 L605.10,1113.94 L605.10,1109.87 L605.11,1105.81 L605.11,1101.74 L605.11,1097.67 L605.11,1093.60 L605.11,1089.54 L605.11,1085.47 L605.11,1081.40 L605.11,1077.34 L605.11,1073.27 L605.11,1069.20 L605.11,1065.13 L605.11,1061.07 L605.11,1057.00 L605.11,1052.93 L605.11,1048.87 L605.11,1044.80 L605.11,1040.73 L605.10,1036.66 L605.10,1032.60 L605.10,1028.53 L605.10,1024.46 L605.09,1020.39 L605.09,1016.33 L605.09,1012.26 L605.08,1008.19 L605.08,1004.12 L605.08,1000.06 L605.07,995.99 L605.07,991.92 L605.07,987.85 L605.06,983.79 L605.06,979.72 L605.05,975.65 L605.05,971.58 L605.05,967.51 L605.04,963.45 L605.04,959.38 L605.03,955.31 L605.03,951.24 L605.02,947.17 L605.02,943.10 L605.01,939.03 L605.01,934.96 L605.00,930.89 L605.00,926.82 L604.99,922.75 L604.99,918.68 L604.99,914.62 L604.98,910.55 L604.98,906.48 L604.97,902.40 L604.97,898.33 L604.96,894.26 L604.96,890.19 L604.95,886.12 L604.95,882.05 L604.94,877.98 L604.94,873.91 L604.94,869.84 L604.93,865.77 L604.93,861.70 L604.92,857.63 L604.92,853.56 L604.92,849.49 L604.91,845.42 L604.91,841.35 L604.91,837.27 L604.90,833.20 L604.90,829.13 L604.90,825.06 L604.90,820.99 L604.89,816.92 L604.89,812.85 L604.89,808.78 L604.89,804.71 L604.89,800.64 L604.89,796.57 L604.88,792.50 L604.88,788.43 L604.88,784.36 L604.88,780.29 L604.88,776.22 L604.88,772.15 L604.88,768.08 L604.88,764.01 L604.89,759.94 L604.89,755.87 L604.89,751.80 L604.89,747.73 L604.89,743.66 L604.90,739.59 L604.90,735.52 L604.90,731.45 L604.90,727.39 L604.91,723.32 L604.91,719.25 L604.92,715.18 L604.92,711.11 L604.93,707.05 L604.93,702.98 L604.94,698.91 L604.95,694.85 L604.95,690.78 L604.96,686.71 L604.97,682.65 L604.98,678.58 L604.99,674.51 L604.99,670.45 L605.00,666.38 L605.01,662.32 L605.02,658.25 L605.04,654.19 L605.05,650.13 L605.06,646.06 L605.07,642.00 L605.08,637.93 L605.10,633.87 L605.11,629.81 L605.13,625.75 L605.14,621.68 L605.16,617.62 L605.17,613.56 L605.19,609.50 L605.21,605.44 L605.22,601.38 L605.24,597.32 L605.26,593.26 L605.27,589.20 L605.29,585.14 L605.30,581.08 L605.31,577.01 L605.32,572.95 L605.33,568.89 L605.33,564.82 L605.33,560.76 L605.33,556.69 L605.32,552.62 L605.31,548.55 L605.29,544.47 L605.27,540.40 L605.24,536.32 L605.20,532.24 L605.16,528.16 L605.11,524.07 L605.05,519.98 L604.99,515.89 L604.91,511.80 L604.83,507.70 L604.74,503.60 L604.64,499.49 L604.55,495.39 L604.46,491.28 L604.39,487.17 L604.35,483.07 L604.33,478.97 L604.35,474.88 L604.42,470.80 L604.54,466.73 L604.72,462.66 L604.97,458.61 L605.29,454.57 L605.70,450.55 L606.20,446.54 L606.79,442.55 L607.48,438.59 L608.29,434.64 L609.22,430.71 L610.27,426.81 L611.46,422.94 L612.78,419.09 L614.24,415.29 L615.83,411.53 L617.56,407.83 L619.41,404.20 L621.40,400.63 L623.51,397.14 L625.76,393.75 L628.12,390.45 L630.62,387.25 L633.24,384.16 L635.98,381.20 L638.84,378.36 L641.83,375.67 L644.93,373.11 L648.16,370.71 L651.50,368.47 L654.95,366.40 L658.53,364.51 L662.21,362.79 L665.98,361.24 L669.84,359.83 L673.77,358.55 L677.75,357.39 L681.78,356.33 L685.84,355.36 L689.91,354.46 L693.99,353.61 L698.05,352.81 L702.11,352.04 L706.15,351.32 L710.19,350.63 L714.21,349.98 L718.24,349.36 L722.26,348.79 L726.28,348.25 L730.30,347.75 L734.33,347.29 L738.36,346.86 L742.40,346.48 L746.45,346.13 L750.50,345.82 L754.57,345.55 L758.64,345.31 L762.71,345.10 L766.79,344.93 L770.87,344.79 L774.95,344.67 L779.02,344.58 L783.09,344.52Z" fill="url(#frv)"/>
<path d="M788.05,370.84 L791.84,370.89 L795.61,370.96 L799.38,371.05 L803.15,371.15 L806.91,371.28 L810.67,371.42 L814.42,371.58 L818.17,371.77 L821.92,371.97 L825.66,372.20 L829.41,372.45 L833.16,372.72 L836.90,373.02 L840.65,373.34 L844.39,373.68 L848.14,374.05 L851.89,374.44 L855.65,374.86 L859.41,375.31 L863.17,375.78 L866.94,376.28 L870.71,376.81 L874.49,377.37 L878.27,377.96 L882.06,378.58 L885.85,379.24 L889.61,379.99 L893.33,380.84 L896.99,381.84 L900.56,383.01 L904.03,384.38 L907.38,385.99 L910.58,387.87 L913.62,390.04 L916.48,392.49 L919.14,395.21 L921.59,398.14 L923.80,401.28 L925.75,404.58 L927.43,408.02 L928.82,411.57 L929.91,415.19 L930.68,418.87 L931.19,422.59 L931.50,426.34 L931.67,430.11 L931.75,433.89 L931.82,437.67 L931.87,441.45 L931.93,445.24 L931.98,449.02 L932.02,452.80 L932.07,456.58 L932.11,460.37 L932.15,464.15 L932.18,467.93 L932.21,471.71 L932.24,475.49 L932.26,479.27 L932.29,483.05 L932.31,486.84 L932.33,490.62 L932.34,494.40 L932.36,498.18 L932.37,501.96 L932.38,505.74 L932.38,509.51 L932.39,513.29 L932.40,517.07 L932.40,520.85 L932.40,524.63 L932.40,528.41 L932.40,532.19 L932.40,535.97 L932.40,539.75 L932.39,543.52 L932.39,547.30 L932.38,551.08 L932.38,554.86 L932.37,558.64 L932.37,562.41 L932.36,566.19 L932.35,569.97 L932.35,573.75 L932.34,577.52 L932.34,581.30 L932.33,585.08 L932.33,588.86 L932.32,592.63 L932.32,596.41 L932.31,600.19 L932.31,603.97 L932.31,607.74 L932.31,611.52 L932.31,615.30 L932.30,619.07 L932.30,622.85 L932.30,626.63 L932.30,630.40 L932.30,634.18 L932.30,637.96 L932.30,641.74 L932.31,645.51 L932.31,649.29 L932.31,653.07 L932.31,656.84 L932.31,660.62 L932.32,664.40 L932.32,668.17 L932.32,671.95 L932.33,675.73 L932.33,679.50 L932.33,683.28 L932.34,687.06 L932.34,690.83 L932.35,694.61 L932.35,698.39 L932.36,702.16 L932.36,705.94 L932.37,709.72 L932.37,713.49 L932.38,717.27 L932.38,721.05 L932.39,724.82 L932.40,728.60 L932.40,732.38 L932.41,736.15 L932.42,739.93 L932.42,743.71 L932.43,747.48 L932.44,751.26 L932.44,755.04 L932.45,758.81 L932.46,762.59 L932.46,766.37 L932.47,770.14 L932.48,773.92 L932.48,777.70 L932.49,781.47 L932.50,785.25 L932.51,789.03 L932.51,792.80 L932.52,796.58 L932.53,800.36 L932.53,804.14 L932.54,807.91 L932.55,811.69 L932.56,815.47 L932.56,819.24 L932.57,823.02 L932.58,826.80 L932.58,830.58 L932.59,834.35 L932.60,838.13 L932.60,841.91 L932.61,845.69 L932.61,849.46 L932.62,853.24 L932.63,857.02 L932.63,860.80 L932.64,864.57 L932.64,868.35 L932.65,872.13 L932.65,875.91 L932.66,879.69 L932.66,883.46 L932.66,887.24 L932.67,891.02 L932.67,894.80 L932.67,898.58 L932.68,902.36 L932.68,906.14 L932.68,909.91 L932.69,913.69 L932.69,917.47 L932.69,921.25 L932.69,925.03 L932.69,928.81 L932.69,932.59 L932.69,936.37 L932.69,940.15 L932.69,943.93 L932.69,947.70 L932.69,951.48 L932.69,955.26 L932.69,959.04 L932.69,962.82 L932.69,966.60 L932.69,970.38 L932.69,974.16 L932.69,977.94 L932.69,981.72 L932.68,985.50 L932.68,989.28 L932.68,993.06 L932.68,996.84 L932.68,1000.62 L932.68,1004.40 L932.67,1008.18 L932.67,1011.96 L932.67,1015.74 L932.67,1019.52 L932.67,1023.29 L932.67,1027.07 L932.66,1030.85 L932.66,1034.63 L932.66,1038.41 L932.66,1042.19 L932.66,1045.97 L932.66,1049.75 L932.66,1053.53 L932.66,1057.31 L932.66,1061.08 L932.66,1064.86 L932.66,1068.64 L932.66,1072.42 L932.66,1076.20 L932.66,1079.98 L932.66,1083.76 L932.66,1087.53 L932.66,1091.31 L932.66,1095.09 L932.66,1098.87 L932.66,1102.64 L932.67,1106.42 L932.67,1110.20 L932.67,1113.98 L932.68,1117.75 L932.68,1121.53 L932.68,1125.31 L932.69,1129.08 L932.69,1132.86 L932.70,1136.64 L932.70,1140.41 L932.71,1144.19 L932.72,1147.96 L932.72,1151.74 L932.73,1155.51 L932.74,1159.29 L932.75,1163.06 L932.76,1166.84 L932.77,1170.61 L932.78,1174.39 L932.79,1178.16 L932.80,1181.93 L932.81,1185.71 L932.82,1189.48 L932.84,1193.25 L932.85,1197.03 L932.86,1200.80 L932.88,1204.57 L932.89,1208.34 L932.91,1212.12 L932.93,1215.89 L932.94,1219.66 L932.96,1223.43 L932.98,1227.20 L933.00,1230.97 L933.02,1234.74 L933.04,1238.51 L933.06,1242.28 L933.09,1246.05 L933.11,1249.82 L933.13,1253.59 L933.16,1257.36 L933.18,1261.13 L933.20,1264.89 L933.23,1268.67 L933.25,1272.44 L933.27,1276.21 L933.28,1279.98 L933.30,1283.76 L933.31,1287.54 L933.32,1291.32 L933.32,1295.10 L933.33,1298.89 L933.32,1302.68 L933.31,1306.47 L933.30,1310.27 L933.28,1314.07 L933.26,1317.87 L933.22,1321.68 L933.19,1325.49 L933.14,1329.31 L933.08,1333.13 L933.00,1336.95 L932.90,1340.77 L932.77,1344.59 L932.61,1348.40 L932.42,1352.20 L932.18,1356.00 L931.89,1359.78 L931.55,1363.55 L931.15,1367.31 L930.69,1371.05 L930.16,1374.77 L929.56,1378.47 L928.88,1382.15 L928.12,1385.80 L927.27,1389.43 L926.33,1393.03 L925.29,1396.59 L924.15,1400.13 L922.91,1403.63 L921.55,1407.10 L920.10,1410.52 L918.54,1413.91 L916.89,1417.26 L915.13,1420.56 L913.29,1423.82 L911.35,1427.03 L909.32,1430.19 L907.20,1433.30 L905.00,1436.36 L902.72,1439.36 L900.35,1442.31 L897.91,1445.19 L895.39,1448.02 L892.79,1450.79 L890.12,1453.49 L887.39,1456.13 L884.58,1458.69 L881.71,1461.19 L878.78,1463.62 L875.78,1465.98 L872.73,1468.26 L869.62,1470.46 L866.45,1472.58 L863.23,1474.63 L859.97,1476.59 L856.65,1478.47 L853.29,1480.26 L849.89,1481.96 L846.44,1483.57 L842.96,1485.09 L839.44,1486.52 L835.88,1487.85 L832.29,1489.09 L828.68,1490.23 L825.03,1491.26 L821.36,1492.19 L817.67,1493.02 L813.95,1493.74 L810.22,1494.36 L806.47,1494.86 L802.70,1495.26 L798.93,1495.55 L795.14,1495.74 L791.35,1495.83 L787.56,1495.81 L783.76,1495.69 L779.97,1495.47 L776.18,1495.15 L772.40,1494.74 L768.63,1494.23 L764.87,1493.62 L761.12,1492.91 L757.39,1492.12 L753.68,1491.23 L749.99,1490.24 L746.33,1489.17 L742.70,1488.01 L739.09,1486.76 L735.52,1485.42 L731.98,1484.00 L728.48,1482.49 L725.02,1480.90 L721.61,1479.22 L718.23,1477.46 L714.91,1475.62 L711.64,1473.70 L708.42,1471.71 L705.26,1469.63 L702.15,1467.48 L699.11,1465.25 L696.12,1462.95 L693.21,1460.58 L690.36,1458.13 L687.59,1455.61 L684.89,1453.03 L682.26,1450.37 L679.72,1447.65 L677.25,1444.85 L674.87,1442.00 L672.58,1439.07 L670.37,1436.09 L668.26,1433.04 L666.24,1429.93 L664.32,1426.76 L662.50,1423.53 L660.78,1420.25 L659.15,1416.90 L657.63,1413.51 L656.20,1410.07 L654.85,1406.58 L653.60,1403.05 L652.43,1399.47 L651.34,1395.87 L650.33,1392.22 L649.39,1388.55 L648.52,1384.85 L647.73,1381.13 L647.00,1377.39 L646.33,1373.62 L645.72,1369.84 L645.17,1366.06 L644.67,1362.26 L644.22,1358.45 L643.82,1354.65 L643.47,1350.84 L643.16,1347.04 L642.88,1343.24 L642.65,1339.44 L642.45,1335.65 L642.28,1331.86 L642.14,1328.07 L642.03,1324.29 L641.95,1320.51 L641.89,1316.73 L641.85,1312.95 L641.84,1309.17 L641.84,1305.40 L641.85,1301.62 L641.89,1297.85 L641.93,1294.08 L641.98,1290.31 L642.04,1286.54 L642.10,1282.77 L642.16,1279.01 L642.23,1275.24 L642.29,1271.47 L642.36,1267.70 L642.42,1263.93 L642.47,1260.16 L642.53,1256.39 L642.58,1252.62 L642.63,1248.85 L642.68,1245.08 L642.72,1241.31 L642.77,1237.54 L642.81,1233.77 L642.85,1230.00 L642.88,1226.22 L642.92,1222.45 L642.95,1218.68 L642.98,1214.91 L643.01,1211.13 L643.04,1207.36 L643.06,1203.59 L643.08,1199.81 L643.11,1196.04 L643.13,1192.27 L643.14,1188.49 L643.16,1184.72 L643.18,1180.95 L643.19,1177.17 L643.20,1173.40 L643.21,1169.62 L643.22,1165.85 L643.23,1162.07 L643.23,1158.30 L643.24,1154.52 L643.24,1150.74 L643.24,1146.97 L643.24,1143.19 L643.24,1139.42 L643.24,1135.64 L643.24,1131.86 L643.24,1128.09 L643.23,1124.31 L643.23,1120.53 L643.22,1116.76 L643.21,1112.98 L643.20,1109.20 L643.19,1105.42 L643.18,1101.65 L643.17,1097.87 L643.16,1094.09 L643.15,1090.31 L643.14,1086.53 L643.12,1082.76 L643.11,1078.98 L643.09,1075.20 L643.08,1071.42 L643.06,1067.64 L643.05,1063.86 L643.03,1060.08 L643.02,1056.31 L643.00,1052.53 L642.98,1048.75 L642.96,1044.97 L642.95,1041.19 L642.93,1037.41 L642.91,1033.63 L642.89,1029.85 L642.88,1026.07 L642.86,1022.29 L642.84,1018.51 L642.82,1014.74 L642.80,1010.96 L642.79,1007.18 L642.77,1003.40 L642.75,999.62 L642.74,995.84 L642.72,992.06 L642.70,988.28 L642.69,984.50 L642.67,980.72 L642.66,976.94 L642.65,973.16 L642.63,969.38 L642.62,965.60 L642.61,961.82 L642.59,958.04 L642.58,954.26 L642.57,950.48 L642.56,946.70 L642.56,942.92 L642.55,939.14 L642.54,935.36 L642.54,931.58 L642.53,927.80 L642.53,924.03 L642.52,920.25 L642.52,916.47 L642.52,912.69 L642.52,908.91 L642.52,905.13 L642.52,901.35 L642.52,897.57 L642.52,893.79 L642.52,890.01 L642.52,886.23 L642.53,882.45 L642.53,878.67 L642.53,874.90 L642.54,871.12 L642.54,867.34 L642.55,863.56 L642.55,859.78 L642.56,856.00 L642.57,852.22 L642.57,848.44 L642.58,844.67 L642.59,840.89 L642.60,837.11 L642.60,833.33 L642.61,829.55 L642.62,825.77 L642.63,822.00 L642.64,818.22 L642.65,814.44 L642.65,810.66 L642.66,806.88 L642.67,803.11 L642.68,799.33 L642.69,795.55 L642.70,791.77 L642.71,788.00 L642.72,784.22 L642.73,780.44 L642.73,776.66 L642.74,772.89 L642.75,769.11 L642.76,765.33 L642.77,761.55 L642.77,757.78 L642.78,754.00 L642.79,750.22 L642.79,746.45 L642.80,742.67 L642.81,738.89 L642.81,735.12 L642.82,731.34 L642.82,727.56 L642.83,723.79 L642.83,720.01 L642.83,716.23 L642.84,712.46 L642.84,708.68 L642.84,704.91 L642.84,701.13 L642.84,697.35 L642.84,693.58 L642.84,689.80 L642.84,686.03 L642.83,682.25 L642.83,678.48 L642.83,674.70 L642.82,670.93 L642.82,667.15 L642.81,663.38 L642.80,659.60 L642.80,655.83 L642.79,652.05 L642.78,648.28 L642.77,644.50 L642.75,640.73 L642.74,636.96 L642.73,633.18 L642.71,629.41 L642.69,625.63 L642.68,621.86 L642.66,618.09 L642.64,614.31 L642.62,610.54 L642.60,606.77 L642.57,602.99 L642.55,599.22 L642.52,595.45 L642.50,591.67 L642.47,587.90 L642.45,584.13 L642.42,580.35 L642.40,576.58 L642.37,572.81 L642.35,569.03 L642.32,565.26 L642.30,561.48 L642.28,557.71 L642.26,553.93 L642.24,550.15 L642.23,546.38 L642.21,542.60 L642.20,538.82 L642.19,535.04 L642.18,531.26 L642.18,527.48 L642.18,523.70 L642.18,519.92 L642.19,516.13 L642.20,512.35 L642.21,508.57 L642.23,504.78 L642.25,500.99 L642.28,497.20 L642.31,493.41 L642.34,489.62 L642.38,485.83 L642.43,482.04 L642.48,478.24 L642.54,474.45 L642.60,470.65 L642.67,466.85 L642.74,463.05 L642.82,459.25 L642.91,455.45 L643.00,451.64 L643.11,447.84 L643.22,444.03 L643.33,440.22 L643.45,436.40 L643.59,432.59 L643.75,428.79 L643.98,425.01 L644.31,421.27 L644.79,417.60 L645.45,414.01 L646.33,410.52 L647.46,407.14 L648.89,403.90 L650.66,400.82 L652.80,397.90 L655.33,395.18 L658.22,392.65 L661.38,390.33 L664.76,388.21 L668.29,386.32 L671.90,384.66 L675.57,383.20 L679.28,381.93 L683.01,380.82 L686.77,379.85 L690.54,378.98 L694.31,378.19 L698.06,377.45 L701.80,376.76 L705.53,376.12 L709.25,375.52 L712.96,374.96 L716.67,374.44 L720.37,373.97 L724.07,373.53 L727.78,373.13 L731.49,372.76 L735.20,372.43 L738.92,372.14 L742.66,371.87 L746.40,371.64 L750.16,371.44 L753.93,371.27 L757.71,371.13 L761.49,371.01 L765.28,370.92 L769.08,370.85 L772.88,370.81 L776.68,370.79 L780.47,370.78 L784.27,370.80Z" fill="none" stroke="#ffffff" stroke-width="7"/>
<path d="M788.05,370.84 L791.84,370.89 L795.61,370.96 L799.38,371.05 L803.15,371.15 L806.91,371.28 L810.67,371.42 L814.42,371.58 L818.17,371.77 L821.92,371.97 L825.66,372.20 L829.41,372.45 L833.16,372.72 L836.90,373.02 L840.65,373.34 L844.39,373.68 L848.14,374.05 L851.89,374.44 L855.65,374.86 L859.41,375.31 L863.17,375.78 L866.94,376.28 L870.71,376.81 L874.49,377.37 L878.27,377.96 L882.06,378.58 L885.85,379.24 L889.61,379.99 L893.33,380.84 L896.99,381.84 L900.56,383.01 L904.03,384.38 L907.38,385.99 L910.58,387.87 L913.62,390.04 L916.48,392.49 L919.14,395.21 L921.59,398.14 L923.80,401.28 L925.75,404.58 L927.43,408.02 L928.82,411.57 L929.91,415.19 L930.68,418.87 L931.19,422.59 L931.50,426.34 L931.67,430.11 L931.75,433.89 L931.82,437.67 L931.87,441.45 L931.93,445.24 L931.98,449.02 L932.02,452.80 L932.07,456.58 L932.11,460.37 L932.15,464.15 L932.18,467.93 L932.21,471.71 L932.24,475.49 L932.26,479.27 L932.29,483.05 L932.31,486.84 L932.33,490.62 L932.34,494.40 L932.36,498.18 L932.37,501.96 L932.38,505.74 L932.38,509.51 L932.39,513.29 L932.40,517.07 L932.40,520.85 L932.40,524.63 L932.40,528.41 L932.40,532.19 L932.40,535.97 L932.40,539.75 L932.39,543.52 L932.39,547.30 L932.38,551.08 L932.38,554.86 L932.37,558.64 L932.37,562.41 L932.36,566.19 L932.35,569.97 L932.35,573.75 L932.34,577.52 L932.34,581.30 L932.33,585.08 L932.33,588.86 L932.32,592.63 L932.32,596.41 L932.31,600.19 L932.31,603.97 L932.31,607.74 L932.31,611.52 L932.31,615.30 L932.30,619.07 L932.30,622.85 L932.30,626.63 L932.30,630.40 L932.30,634.18 L932.30,637.96 L932.30,641.74 L932.31,645.51 L932.31,649.29 L932.31,653.07 L932.31,656.84 L932.31,660.62 L932.32,664.40 L932.32,668.17 L932.32,671.95 L932.33,675.73 L932.33,679.50 L932.33,683.28 L932.34,687.06 L932.34,690.83 L932.35,694.61 L932.35,698.39 L932.36,702.16 L932.36,705.94 L932.37,709.72 L932.37,713.49 L932.38,717.27 L932.38,721.05 L932.39,724.82 L932.40,728.60 L932.40,732.38 L932.41,736.15 L932.42,739.93 L932.42,743.71 L932.43,747.48 L932.44,751.26 L932.44,755.04 L932.45,758.81 L932.46,762.59 L932.46,766.37 L932.47,770.14 L932.48,773.92 L932.48,777.70 L932.49,781.47 L932.50,785.25 L932.51,789.03 L932.51,792.80 L932.52,796.58 L932.53,800.36 L932.53,804.14 L932.54,807.91 L932.55,811.69 L932.56,815.47 L932.56,819.24 L932.57,823.02 L932.58,826.80 L932.58,830.58 L932.59,834.35 L932.60,838.13 L932.60,841.91 L932.61,845.69 L932.61,849.46 L932.62,853.24 L932.63,857.02 L932.63,860.80 L932.64,864.57 L932.64,868.35 L932.65,872.13 L932.65,875.91 L932.66,879.69 L932.66,883.46 L932.66,887.24 L932.67,891.02 L932.67,894.80 L932.67,898.58 L932.68,902.36 L932.68,906.14 L932.68,909.91 L932.69,913.69 L932.69,917.47 L932.69,921.25 L932.69,925.03 L932.69,928.81 L932.69,932.59 L932.69,936.37 L932.69,940.15 L932.69,943.93 L932.69,947.70 L932.69,951.48 L932.69,955.26 L932.69,959.04 L932.69,962.82 L932.69,966.60 L932.69,970.38 L932.69,974.16 L932.69,977.94 L932.69,981.72 L932.68,985.50 L932.68,989.28 L932.68,993.06 L932.68,996.84 L932.68,1000.62 L932.68,1004.40 L932.67,1008.18 L932.67,1011.96 L932.67,1015.74 L932.67,1019.52 L932.67,1023.29 L932.67,1027.07 L932.66,1030.85 L932.66,1034.63 L932.66,1038.41 L932.66,1042.19 L932.66,1045.97 L932.66,1049.75 L932.66,1053.53 L932.66,1057.31 L932.66,1061.08 L932.66,1064.86 L932.66,1068.64 L932.66,1072.42 L932.66,1076.20 L932.66,1079.98 L932.66,1083.76 L932.66,1087.53 L932.66,1091.31 L932.66,1095.09 L932.66,1098.87 L932.66,1102.64 L932.67,1106.42 L932.67,1110.20 L932.67,1113.98 L932.68,1117.75 L932.68,1121.53 L932.68,1125.31 L932.69,1129.08 L932.69,1132.86 L932.70,1136.64 L932.70,1140.41 L932.71,1144.19 L932.72,1147.96 L932.72,1151.74 L932.73,1155.51 L932.74,1159.29 L932.75,1163.06 L932.76,1166.84 L932.77,1170.61 L932.78,1174.39 L932.79,1178.16 L932.80,1181.93 L932.81,1185.71 L932.82,1189.48 L932.84,1193.25 L932.85,1197.03 L932.86,1200.80 L932.88,1204.57 L932.89,1208.34 L932.91,1212.12 L932.93,1215.89 L932.94,1219.66 L932.96,1223.43 L932.98,1227.20 L933.00,1230.97 L933.02,1234.74 L933.04,1238.51 L933.06,1242.28 L933.09,1246.05 L933.11,1249.82 L933.13,1253.59 L933.16,1257.36 L933.18,1261.13 L933.20,1264.89 L933.23,1268.67 L933.25,1272.44 L933.27,1276.21 L933.28,1279.98 L933.30,1283.76 L933.31,1287.54 L933.32,1291.32 L933.32,1295.10 L933.33,1298.89 L933.32,1302.68 L933.31,1306.47 L933.30,1310.27 L933.28,1314.07 L933.26,1317.87 L933.22,1321.68 L933.19,1325.49 L933.14,1329.31 L933.08,1333.13 L933.00,1336.95 L932.90,1340.77 L932.77,1344.59 L932.61,1348.40 L932.42,1352.20 L932.18,1356.00 L931.89,1359.78 L931.55,1363.55 L931.15,1367.31 L930.69,1371.05 L930.16,1374.77 L929.56,1378.47 L928.88,1382.15 L928.12,1385.80 L927.27,1389.43 L926.33,1393.03 L925.29,1396.59 L924.15,1400.13 L922.91,1403.63 L921.55,1407.10 L920.10,1410.52 L918.54,1413.91 L916.89,1417.26 L915.13,1420.56 L913.29,1423.82 L911.35,1427.03 L909.32,1430.19 L907.20,1433.30 L905.00,1436.36 L902.72,1439.36 L900.35,1442.31 L897.91,1445.19 L895.39,1448.02 L892.79,1450.79 L890.12,1453.49 L887.39,1456.13 L884.58,1458.69 L881.71,1461.19 L878.78,1463.62 L875.78,1465.98 L872.73,1468.26 L869.62,1470.46 L866.45,1472.58 L863.23,1474.63 L859.97,1476.59 L856.65,1478.47 L853.29,1480.26 L849.89,1481.96 L846.44,1483.57 L842.96,1485.09 L839.44,1486.52 L835.88,1487.85 L832.29,1489.09 L828.68,1490.23 L825.03,1491.26 L821.36,1492.19 L817.67,1493.02 L813.95,1493.74 L810.22,1494.36 L806.47,1494.86 L802.70,1495.26 L798.93,1495.55 L795.14,1495.74 L791.35,1495.83 L787.56,1495.81 L783.76,1495.69 L779.97,1495.47 L776.18,1495.15 L772.40,1494.74 L768.63,1494.23 L764.87,1493.62 L761.12,1492.91 L757.39,1492.12 L753.68,1491.23 L749.99,1490.24 L746.33,1489.17 L742.70,1488.01 L739.09,1486.76 L735.52,1485.42 L731.98,1484.00 L728.48,1482.49 L725.02,1480.90 L721.61,1479.22 L718.23,1477.46 L714.91,1475.62 L711.64,1473.70 L708.42,1471.71 L705.26,1469.63 L702.15,1467.48 L699.11,1465.25 L696.12,1462.95 L693.21,1460.58 L690.36,1458.13 L687.59,1455.61 L684.89,1453.03 L682.26,1450.37 L679.72,1447.65 L677.25,1444.85 L674.87,1442.00 L672.58,1439.07 L670.37,1436.09 L668.26,1433.04 L666.24,1429.93 L664.32,1426.76 L662.50,1423.53 L660.78,1420.25 L659.15,1416.90 L657.63,1413.51 L656.20,1410.07 L654.85,1406.58 L653.60,1403.05 L652.43,1399.47 L651.34,1395.87 L650.33,1392.22 L649.39,1388.55 L648.52,1384.85 L647.73,1381.13 L647.00,1377.39 L646.33,1373.62 L645.72,1369.84 L645.17,1366.06 L644.67,1362.26 L644.22,1358.45 L643.82,1354.65 L643.47,1350.84 L643.16,1347.04 L642.88,1343.24 L642.65,1339.44 L642.45,1335.65 L642.28,1331.86 L642.14,1328.07 L642.03,1324.29 L641.95,1320.51 L641.89,1316.73 L641.85,1312.95 L641.84,1309.17 L641.84,1305.40 L641.85,1301.62 L641.89,1297.85 L641.93,1294.08 L641.98,1290.31 L642.04,1286.54 L642.10,1282.77 L642.16,1279.01 L642.23,1275.24 L642.29,1271.47 L642.36,1267.70 L642.42,1263.93 L642.47,1260.16 L642.53,1256.39 L642.58,1252.62 L642.63,1248.85 L642.68,1245.08 L642.72,1241.31 L642.77,1237.54 L642.81,1233.77 L642.85,1230.00 L642.88,1226.22 L642.92,1222.45 L642.95,1218.68 L642.98,1214.91 L643.01,1211.13 L643.04,1207.36 L643.06,1203.59 L643.08,1199.81 L643.11,1196.04 L643.13,1192.27 L643.14,1188.49 L643.16,1184.72 L643.18,1180.95 L643.19,1177.17 L643.20,1173.40 L643.21,1169.62 L643.22,1165.85 L643.23,1162.07 L643.23,1158.30 L643.24,1154.52 L643.24,1150.74 L643.24,1146.97 L643.24,1143.19 L643.24,1139.42 L643.24,1135.64 L643.24,1131.86 L643.24,1128.09 L643.23,1124.31 L643.23,1120.53 L643.22,1116.76 L643.21,1112.98 L643.20,1109.20 L643.19,1105.42 L643.18,1101.65 L643.17,1097.87 L643.16,1094.09 L643.15,1090.31 L643.14,1086.53 L643.12,1082.76 L643.11,1078.98 L643.09,1075.20 L643.08,1071.42 L643.06,1067.64 L643.05,1063.86 L643.03,1060.08 L643.02,1056.31 L643.00,1052.53 L642.98,1048.75 L642.96,1044.97 L642.95,1041.19 L642.93,1037.41 L642.91,1033.63 L642.89,1029.85 L642.88,1026.07 L642.86,1022.29 L642.84,1018.51 L642.82,1014.74 L642.80,1010.96 L642.79,1007.18 L642.77,1003.40 L642.75,999.62 L642.74,995.84 L642.72,992.06 L642.70,988.28 L642.69,984.50 L642.67,980.72 L642.66,976.94 L642.65,973.16 L642.63,969.38 L642.62,965.60 L642.61,961.82 L642.59,958.04 L642.58,954.26 L642.57,950.48 L642.56,946.70 L642.56,942.92 L642.55,939.14 L642.54,935.36 L642.54,931.58 L642.53,927.80 L642.53,924.03 L642.52,920.25 L642.52,916.47 L642.52,912.69 L642.52,908.91 L642.52,905.13 L642.52,901.35 L642.52,897.57 L642.52,893.79 L642.52,890.01 L642.52,886.23 L642.53,882.45 L642.53,878.67 L642.53,874.90 L642.54,871.12 L642.54,867.34 L642.55,863.56 L642.55,859.78 L642.56,856.00 L642.57,852.22 L642.57,848.44 L642.58,844.67 L642.59,840.89 L642.60,837.11 L642.60,833.33 L642.61,829.55 L642.62,825.77 L642.63,822.00 L642.64,818.22 L642.65,814.44 L642.65,810.66 L642.66,806.88 L642.67,803.11 L642.68,799.33 L642.69,795.55 L642.70,791.77 L642.71,788.00 L642.72,784.22 L642.73,780.44 L642.73,776.66 L642.74,772.89 L642.75,769.11 L642.76,765.33 L642.77,761.55 L642.77,757.78 L642.78,754.00 L642.79,750.22 L642.79,746.45 L642.80,742.67 L642.81,738.89 L642.81,735.12 L642.82,731.34 L642.82,727.56 L642.83,723.79 L642.83,720.01 L642.83,716.23 L642.84,712.46 L642.84,708.68 L642.84,704.91 L642.84,701.13 L642.84,697.35 L642.84,693.58 L642.84,689.80 L642.84,686.03 L642.83,682.25 L642.83,678.48 L642.83,674.70 L642.82,670.93 L642.82,667.15 L642.81,663.38 L642.80,659.60 L642.80,655.83 L642.79,652.05 L642.78,648.28 L642.77,644.50 L642.75,640.73 L642.74,636.96 L642.73,633.18 L642.71,629.41 L642.69,625.63 L642.68,621.86 L642.66,618.09 L642.64,614.31 L642.62,610.54 L642.60,606.77 L642.57,602.99 L642.55,599.22 L642.52,595.45 L642.50,591.67 L642.47,587.90 L642.45,584.13 L642.42,580.35 L642.40,576.58 L642.37,572.81 L642.35,569.03 L642.32,565.26 L642.30,561.48 L642.28,557.71 L642.26,553.93 L642.24,550.15 L642.23,546.38 L642.21,542.60 L642.20,538.82 L642.19,535.04 L642.18,531.26 L642.18,527.48 L642.18,523.70 L642.18,519.92 L642.19,516.13 L642.20,512.35 L642.21,508.57 L642.23,504.78 L642.25,500.99 L642.28,497.20 L642.31,493.41 L642.34,489.62 L642.38,485.83 L642.43,482.04 L642.48,478.24 L642.54,474.45 L642.60,470.65 L642.67,466.85 L642.74,463.05 L642.82,459.25 L642.91,455.45 L643.00,451.64 L643.11,447.84 L643.22,444.03 L643.33,440.22 L643.45,436.40 L643.59,432.59 L643.75,428.79 L643.98,425.01 L644.31,421.27 L644.79,417.60 L645.45,414.01 L646.33,410.52 L647.46,407.14 L648.89,403.90 L650.66,400.82 L652.80,397.90 L655.33,395.18 L658.22,392.65 L661.38,390.33 L664.76,388.21 L668.29,386.32 L671.90,384.66 L675.57,383.20 L679.28,381.93 L683.01,380.82 L686.77,379.85 L690.54,378.98 L694.31,378.19 L698.06,377.45 L701.80,376.76 L705.53,376.12 L709.25,375.52 L712.96,374.96 L716.67,374.44 L720.37,373.97 L724.07,373.53 L727.78,373.13 L731.49,372.76 L735.20,372.43 L738.92,372.14 L742.66,371.87 L746.40,371.64 L750.16,371.44 L753.93,371.27 L757.71,371.13 L761.49,371.01 L765.28,370.92 L769.08,370.85 L772.88,370.81 L776.68,370.79 L780.47,370.78 L784.27,370.80Z" fill="#b1bed1"/>
<path d="M788.05,370.84 L791.84,370.89 L795.61,370.96 L799.38,371.05 L803.15,371.15 L806.91,371.28 L810.67,371.42 L814.42,371.58 L818.17,371.77 L821.92,371.97 L825.66,372.20 L829.41,372.45 L833.16,372.72 L836.90,373.02 L840.65,373.34 L844.39,373.68 L848.14,374.05 L851.89,374.44 L855.65,374.86 L859.41,375.31 L863.17,375.78 L866.94,376.28 L870.71,376.81 L874.49,377.37 L878.27,377.96 L882.06,378.58 L885.85,379.24 L889.61,379.99 L893.33,380.84 L896.99,381.84 L900.56,383.01 L904.03,384.38 L907.38,385.99 L910.58,387.87 L913.62,390.04 L916.48,392.49 L919.14,395.21 L921.59,398.14 L923.80,401.28 L925.75,404.58 L927.43,408.02 L928.82,411.57 L929.91,415.19 L930.68,418.87 L931.19,422.59 L931.50,426.34 L931.67,430.11 L931.75,433.89 L931.82,437.67 L931.87,441.45 L931.93,445.24 L931.98,449.02 L932.02,452.80 L932.07,456.58 L932.11,460.37 L932.15,464.15 L932.18,467.93 L932.21,471.71 L932.24,475.49 L932.26,479.27 L932.29,483.05 L932.31,486.84 L932.33,490.62 L932.34,494.40 L932.36,498.18 L932.37,501.96 L932.38,505.74 L932.38,509.51 L932.39,513.29 L932.40,517.07 L932.40,520.85 L932.40,524.63 L932.40,528.41 L932.40,532.19 L932.40,535.97 L932.40,539.75 L932.39,543.52 L932.39,547.30 L932.38,551.08 L932.38,554.86 L932.37,558.64 L932.37,562.41 L932.36,566.19 L932.35,569.97 L932.35,573.75 L932.34,577.52 L932.34,581.30 L932.33,585.08 L932.33,588.86 L932.32,592.63 L932.32,596.41 L932.31,600.19 L932.31,603.97 L932.31,607.74 L932.31,611.52 L932.31,615.30 L932.30,619.07 L932.30,622.85 L932.30,626.63 L932.30,630.40 L932.30,634.18 L932.30,637.96 L932.30,641.74 L932.31,645.51 L932.31,649.29 L932.31,653.07 L932.31,656.84 L932.31,660.62 L932.32,664.40 L932.32,668.17 L932.32,671.95 L932.33,675.73 L932.33,679.50 L932.33,683.28 L932.34,687.06 L932.34,690.83 L932.35,694.61 L932.35,698.39 L932.36,702.16 L932.36,705.94 L932.37,709.72 L932.37,713.49 L932.38,717.27 L932.38,721.05 L932.39,724.82 L932.40,728.60 L932.40,732.38 L932.41,736.15 L932.42,739.93 L932.42,743.71 L932.43,747.48 L932.44,751.26 L932.44,755.04 L932.45,758.81 L932.46,762.59 L932.46,766.37 L932.47,770.14 L932.48,773.92 L932.48,777.70 L932.49,781.47 L932.50,785.25 L932.51,789.03 L932.51,792.80 L932.52,796.58 L932.53,800.36 L932.53,804.14 L932.54,807.91 L932.55,811.69 L932.56,815.47 L932.56,819.24 L932.57,823.02 L932.58,826.80 L932.58,830.58 L932.59,834.35 L932.60,838.13 L932.60,841.91 L932.61,845.69 L932.61,849.46 L932.62,853.24 L932.63,857.02 L932.63,860.80 L932.64,864.57 L932.64,868.35 L932.65,872.13 L932.65,875.91 L932.66,879.69 L932.66,883.46 L932.66,887.24 L932.67,891.02 L932.67,894.80 L932.67,898.58 L932.68,902.36 L932.68,906.14 L932.68,909.91 L932.69,913.69 L932.69,917.47 L932.69,921.25 L932.69,925.03 L932.69,928.81 L932.69,932.59 L932.69,936.37 L932.69,940.15 L932.69,943.93 L932.69,947.70 L932.69,951.48 L932.69,955.26 L932.69,959.04 L932.69,962.82 L932.69,966.60 L932.69,970.38 L932.69,974.16 L932.69,977.94 L932.69,981.72 L932.68,985.50 L932.68,989.28 L932.68,993.06 L932.68,996.84 L932.68,1000.62 L932.68,1004.40 L932.67,1008.18 L932.67,1011.96 L932.67,1015.74 L932.67,1019.52 L932.67,1023.29 L932.67,1027.07 L932.66,1030.85 L932.66,1034.63 L932.66,1038.41 L932.66,1042.19 L932.66,1045.97 L932.66,1049.75 L932.66,1053.53 L932.66,1057.31 L932.66,1061.08 L932.66,1064.86 L932.66,1068.64 L932.66,1072.42 L932.66,1076.20 L932.66,1079.98 L932.66,1083.76 L932.66,1087.53 L932.66,1091.31 L932.66,1095.09 L932.66,1098.87 L932.66,1102.64 L932.67,1106.42 L932.67,1110.20 L932.67,1113.98 L932.68,1117.75 L932.68,1121.53 L932.68,1125.31 L932.69,1129.08 L932.69,1132.86 L932.70,1136.64 L932.70,1140.41 L932.71,1144.19 L932.72,1147.96 L932.72,1151.74 L932.73,1155.51 L932.74,1159.29 L932.75,1163.06 L932.76,1166.84 L932.77,1170.61 L932.78,1174.39 L932.79,1178.16 L932.80,1181.93 L932.81,1185.71 L932.82,1189.48 L932.84,1193.25 L932.85,1197.03 L932.86,1200.80 L932.88,1204.57 L932.89,1208.34 L932.91,1212.12 L932.93,1215.89 L932.94,1219.66 L932.96,1223.43 L932.98,1227.20 L933.00,1230.97 L933.02,1234.74 L933.04,1238.51 L933.06,1242.28 L933.09,1246.05 L933.11,1249.82 L933.13,1253.59 L933.16,1257.36 L933.18,1261.13 L933.20,1264.89 L933.23,1268.67 L933.25,1272.44 L933.27,1276.21 L933.28,1279.98 L933.30,1283.76 L933.31,1287.54 L933.32,1291.32 L933.32,1295.10 L933.33,1298.89 L933.32,1302.68 L933.31,1306.47 L933.30,1310.27 L933.28,1314.07 L933.26,1317.87 L933.22,1321.68 L933.19,1325.49 L933.14,1329.31 L933.08,1333.13 L933.00,1336.95 L932.90,1340.77 L932.77,1344.59 L932.61,1348.40 L932.42,1352.20 L932.18,1356.00 L931.89,1359.78 L931.55,1363.55 L931.15,1367.31 L930.69,1371.05 L930.16,1374.77 L929.56,1378.47 L928.88,1382.15 L928.12,1385.80 L927.27,1389.43 L926.33,1393.03 L925.29,1396.59 L924.15,1400.13 L922.91,1403.63 L921.55,1407.10 L920.10,1410.52 L918.54,1413.91 L916.89,1417.26 L915.13,1420.56 L913.29,1423.82 L911.35,1427.03 L909.32,1430.19 L907.20,1433.30 L905.00,1436.36 L902.72,1439.36 L900.35,1442.31 L897.91,1445.19 L895.39,1448.02 L892.79,1450.79 L890.12,1453.49 L887.39,1456.13 L884.58,1458.69 L881.71,1461.19 L878.78,1463.62 L875.78,1465.98 L872.73,1468.26 L869.62,1470.46 L866.45,1472.58 L863.23,1474.63 L859.97,1476.59 L856.65,1478.47 L853.29,1480.26 L849.89,1481.96 L846.44,1483.57 L842.96,1485.09 L839.44,1486.52 L835.88,1487.85 L832.29,1489.09 L828.68,1490.23 L825.03,1491.26 L821.36,1492.19 L817.67,1493.02 L813.95,1493.74 L810.22,1494.36 L806.47,1494.86 L802.70,1495.26 L798.93,1495.55 L795.14,1495.74 L791.35,1495.83 L787.56,1495.81 L783.76,1495.69 L779.97,1495.47 L776.18,1495.15 L772.40,1494.74 L768.63,1494.23 L764.87,1493.62 L761.12,1492.91 L757.39,1492.12 L753.68,1491.23 L749.99,1490.24 L746.33,1489.17 L742.70,1488.01 L739.09,1486.76 L735.52,1485.42 L731.98,1484.00 L728.48,1482.49 L725.02,1480.90 L721.61,1479.22 L718.23,1477.46 L714.91,1475.62 L711.64,1473.70 L708.42,1471.71 L705.26,1469.63 L702.15,1467.48 L699.11,1465.25 L696.12,1462.95 L693.21,1460.58 L690.36,1458.13 L687.59,1455.61 L684.89,1453.03 L682.26,1450.37 L679.72,1447.65 L677.25,1444.85 L674.87,1442.00 L672.58,1439.07 L670.37,1436.09 L668.26,1433.04 L666.24,1429.93 L664.32,1426.76 L662.50,1423.53 L660.78,1420.25 L659.15,1416.90 L657.63,1413.51 L656.20,1410.07 L654.85,1406.58 L653.60,1403.05 L652.43,1399.47 L651.34,1395.87 L650.33,1392.22 L649.39,1388.55 L648.52,1384.85 L647.73,1381.13 L647.00,1377.39 L646.33,1373.62 L645.72,1369.84 L645.17,1366.06 L644.67,1362.26 L644.22,1358.45 L643.82,1354.65 L643.47,1350.84 L643.16,1347.04 L642.88,1343.24 L642.65,1339.44 L642.45,1335.65 L642.28,1331.86 L642.14,1328.07 L642.03,1324.29 L641.95,1320.51 L641.89,1316.73 L641.85,1312.95 L641.84,1309.17 L641.84,1305.40 L641.85,1301.62 L641.89,1297.85 L641.93,1294.08 L641.98,1290.31 L642.04,1286.54 L642.10,1282.77 L642.16,1279.01 L642.23,1275.24 L642.29,1271.47 L642.36,1267.70 L642.42,1263.93 L642.47,1260.16 L642.53,1256.39 L642.58,1252.62 L642.63,1248.85 L642.68,1245.08 L642.72,1241.31 L642.77,1237.54 L642.81,1233.77 L642.85,1230.00 L642.88,1226.22 L642.92,1222.45 L642.95,1218.68 L642.98,1214.91 L643.01,1211.13 L643.04,1207.36 L643.06,1203.59 L643.08,1199.81 L643.11,1196.04 L643.13,1192.27 L643.14,1188.49 L643.16,1184.72 L643.18,1180.95 L643.19,1177.17 L643.20,1173.40 L643.21,1169.62 L643.22,1165.85 L643.23,1162.07 L643.23,1158.30 L643.24,1154.52 L643.24,1150.74 L643.24,1146.97 L643.24,1143.19 L643.24,1139.42 L643.24,1135.64 L643.24,1131.86 L643.24,1128.09 L643.23,1124.31 L643.23,1120.53 L643.22,1116.76 L643.21,1112.98 L643.20,1109.20 L643.19,1105.42 L643.18,1101.65 L643.17,1097.87 L643.16,1094.09 L643.15,1090.31 L643.14,1086.53 L643.12,1082.76 L643.11,1078.98 L643.09,1075.20 L643.08,1071.42 L643.06,1067.64 L643.05,1063.86 L643.03,1060.08 L643.02,1056.31 L643.00,1052.53 L642.98,1048.75 L642.96,1044.97 L642.95,1041.19 L642.93,1037.41 L642.91,1033.63 L642.89,1029.85 L642.88,1026.07 L642.86,1022.29 L642.84,1018.51 L642.82,1014.74 L642.80,1010.96 L642.79,1007.18 L642.77,1003.40 L642.75,999.62 L642.74,995.84 L642.72,992.06 L642.70,988.28 L642.69,984.50 L642.67,980.72 L642.66,976.94 L642.65,973.16 L642.63,969.38 L642.62,965.60 L642.61,961.82 L642.59,958.04 L642.58,954.26 L642.57,950.48 L642.56,946.70 L642.56,942.92 L642.55,939.14 L642.54,935.36 L642.54,931.58 L642.53,927.80 L642.53,924.03 L642.52,920.25 L642.52,916.47 L642.52,912.69 L642.52,908.91 L642.52,905.13 L642.52,901.35 L642.52,897.57 L642.52,893.79 L642.52,890.01 L642.52,886.23 L642.53,882.45 L642.53,878.67 L642.53,874.90 L642.54,871.12 L642.54,867.34 L642.55,863.56 L642.55,859.78 L642.56,856.00 L642.57,852.22 L642.57,848.44 L642.58,844.67 L642.59,840.89 L642.60,837.11 L642.60,833.33 L642.61,829.55 L642.62,825.77 L642.63,822.00 L642.64,818.22 L642.65,814.44 L642.65,810.66 L642.66,806.88 L642.67,803.11 L642.68,799.33 L642.69,795.55 L642.70,791.77 L642.71,788.00 L642.72,784.22 L642.73,780.44 L642.73,776.66 L642.74,772.89 L642.75,769.11 L642.76,765.33 L642.77,761.55 L642.77,757.78 L642.78,754.00 L642.79,750.22 L642.79,746.45 L642.80,742.67 L642.81,738.89 L642.81,735.12 L642.82,731.34 L642.82,727.56 L642.83,723.79 L642.83,720.01 L642.83,716.23 L642.84,712.46 L642.84,708.68 L642.84,704.91 L642.84,701.13 L642.84,697.35 L642.84,693.58 L642.84,689.80 L642.84,686.03 L642.83,682.25 L642.83,678.48 L642.83,674.70 L642.82,670.93 L642.82,667.15 L642.81,663.38 L642.80,659.60 L642.80,655.83 L642.79,652.05 L642.78,648.28 L642.77,644.50 L642.75,640.73 L642.74,636.96 L642.73,633.18 L642.71,629.41 L642.69,625.63 L642.68,621.86 L642.66,618.09 L642.64,614.31 L642.62,610.54 L642.60,606.77 L642.57,602.99 L642.55,599.22 L642.52,595.45 L642.50,591.67 L642.47,587.90 L642.45,584.13 L642.42,580.35 L642.40,576.58 L642.37,572.81 L642.35,569.03 L642.32,565.26 L642.30,561.48 L642.28,557.71 L642.26,553.93 L642.24,550.15 L642.23,546.38 L642.21,542.60 L642.20,538.82 L642.19,535.04 L642.18,531.26 L642.18,527.48 L642.18,523.70 L642.18,519.92 L642.19,516.13 L642.20,512.35 L642.21,508.57 L642.23,504.78 L642.25,500.99 L642.28,497.20 L642.31,493.41 L642.34,489.62 L642.38,485.83 L642.43,482.04 L642.48,478.24 L642.54,474.45 L642.60,470.65 L642.67,466.85 L642.74,463.05 L642.82,459.25 L642.91,455.45 L643.00,451.64 L643.11,447.84 L643.22,444.03 L643.33,440.22 L643.45,436.40 L643.59,432.59 L643.75,428.79 L643.98,425.01 L644.31,421.27 L644.79,417.60 L645.45,414.01 L646.33,410.52 L647.46,407.14 L648.89,403.90 L650.66,400.82 L652.80,397.90 L655.33,395.18 L658.22,392.65 L661.38,390.33 L664.76,388.21 L668.29,386.32 L671.90,384.66 L675.57,383.20 L679.28,381.93 L683.01,380.82 L686.77,379.85 L690.54,378.98 L694.31,378.19 L698.06,377.45 L701.80,376.76 L705.53,376.12 L709.25,375.52 L712.96,374.96 L716.67,374.44 L720.37,373.97 L724.07,373.53 L727.78,373.13 L731.49,372.76 L735.20,372.43 L738.92,372.14 L742.66,371.87 L746.40,371.64 L750.16,371.44 L753.93,371.27 L757.71,371.13 L761.49,371.01 L765.28,370.92 L769.08,370.85 L772.88,370.81 L776.68,370.79 L780.47,370.78 L784.27,370.80Z" fill="none" stroke="#d8e2f0" stroke-width="6" clip-path="url(#inclip)"/>
<path d="M788.05,370.84 L791.84,370.89 L795.61,370.96 L799.38,371.05 L803.15,371.15 L806.91,371.28 L810.67,371.42 L814.42,371.58 L818.17,371.77 L821.92,371.97 L825.66,372.20 L829.41,372.45 L833.16,372.72 L836.90,373.02 L840.65,373.34 L844.39,373.68 L848.14,374.05 L851.89,374.44 L855.65,374.86 L859.41,375.31 L863.17,375.78 L866.94,376.28 L870.71,376.81 L874.49,377.37 L878.27,377.96 L882.06,378.58 L885.85,379.24 L889.61,379.99 L893.33,380.84 L896.99,381.84 L900.56,383.01 L904.03,384.38 L907.38,385.99 L910.58,387.87 L913.62,390.04 L916.48,392.49 L919.14,395.21 L921.59,398.14 L923.80,401.28 L925.75,404.58 L927.43,408.02 L928.82,411.57 L929.91,415.19 L930.68,418.87 L931.19,422.59 L931.50,426.34 L931.67,430.11 L931.75,433.89 L931.82,437.67 L931.87,441.45 L931.93,445.24 L931.98,449.02 L932.02,452.80 L932.07,456.58 L932.11,460.37 L932.15,464.15 L932.18,467.93 L932.21,471.71 L932.24,475.49 L932.26,479.27 L932.29,483.05 L932.31,486.84 L932.33,490.62 L932.34,494.40 L932.36,498.18 L932.37,501.96 L932.38,505.74 L932.38,509.51 L932.39,513.29 L932.40,517.07 L932.40,520.85 L932.40,524.63 L932.40,528.41 L932.40,532.19 L932.40,535.97 L932.40,539.75 L932.39,543.52 L932.39,547.30 L932.38,551.08 L932.38,554.86 L932.37,558.64 L932.37,562.41 L932.36,566.19 L932.35,569.97 L932.35,573.75 L932.34,577.52 L932.34,581.30 L932.33,585.08 L932.33,588.86 L932.32,592.63 L932.32,596.41 L932.31,600.19 L932.31,603.97 L932.31,607.74 L932.31,611.52 L932.31,615.30 L932.30,619.07 L932.30,622.85 L932.30,626.63 L932.30,630.40 L932.30,634.18 L932.30,637.96 L932.30,641.74 L932.31,645.51 L932.31,649.29 L932.31,653.07 L932.31,656.84 L932.31,660.62 L932.32,664.40 L932.32,668.17 L932.32,671.95 L932.33,675.73 L932.33,679.50 L932.33,683.28 L932.34,687.06 L932.34,690.83 L932.35,694.61 L932.35,698.39 L932.36,702.16 L932.36,705.94 L932.37,709.72 L932.37,713.49 L932.38,717.27 L932.38,721.05 L932.39,724.82 L932.40,728.60 L932.40,732.38 L932.41,736.15 L932.42,739.93 L932.42,743.71 L932.43,747.48 L932.44,751.26 L932.44,755.04 L932.45,758.81 L932.46,762.59 L932.46,766.37 L932.47,770.14 L932.48,773.92 L932.48,777.70 L932.49,781.47 L932.50,785.25 L932.51,789.03 L932.51,792.80 L932.52,796.58 L932.53,800.36 L932.53,804.14 L932.54,807.91 L932.55,811.69 L932.56,815.47 L932.56,819.24 L932.57,823.02 L932.58,826.80 L932.58,830.58 L932.59,834.35 L932.60,838.13 L932.60,841.91 L932.61,845.69 L932.61,849.46 L932.62,853.24 L932.63,857.02 L932.63,860.80 L932.64,864.57 L932.64,868.35 L932.65,872.13 L932.65,875.91 L932.66,879.69 L932.66,883.46 L932.66,887.24 L932.67,891.02 L932.67,894.80 L932.67,898.58 L932.68,902.36 L932.68,906.14 L932.68,909.91 L932.69,913.69 L932.69,917.47 L932.69,921.25 L932.69,925.03 L932.69,928.81 L932.69,932.59 L932.69,936.37 L932.69,940.15 L932.69,943.93 L932.69,947.70 L932.69,951.48 L932.69,955.26 L932.69,959.04 L932.69,962.82 L932.69,966.60 L932.69,970.38 L932.69,974.16 L932.69,977.94 L932.69,981.72 L932.68,985.50 L932.68,989.28 L932.68,993.06 L932.68,996.84 L932.68,1000.62 L932.68,1004.40 L932.67,1008.18 L932.67,1011.96 L932.67,1015.74 L932.67,1019.52 L932.67,1023.29 L932.67,1027.07 L932.66,1030.85 L932.66,1034.63 L932.66,1038.41 L932.66,1042.19 L932.66,1045.97 L932.66,1049.75 L932.66,1053.53 L932.66,1057.31 L932.66,1061.08 L932.66,1064.86 L932.66,1068.64 L932.66,1072.42 L932.66,1076.20 L932.66,1079.98 L932.66,1083.76 L932.66,1087.53 L932.66,1091.31 L932.66,1095.09 L932.66,1098.87 L932.66,1102.64 L932.67,1106.42 L932.67,1110.20 L932.67,1113.98 L932.68,1117.75 L932.68,1121.53 L932.68,1125.31 L932.69,1129.08 L932.69,1132.86 L932.70,1136.64 L932.70,1140.41 L932.71,1144.19 L932.72,1147.96 L932.72,1151.74 L932.73,1155.51 L932.74,1159.29 L932.75,1163.06 L932.76,1166.84 L932.77,1170.61 L932.78,1174.39 L932.79,1178.16 L932.80,1181.93 L932.81,1185.71 L932.82,1189.48 L932.84,1193.25 L932.85,1197.03 L932.86,1200.80 L932.88,1204.57 L932.89,1208.34 L932.91,1212.12 L932.93,1215.89 L932.94,1219.66 L932.96,1223.43 L932.98,1227.20 L933.00,1230.97 L933.02,1234.74 L933.04,1238.51 L933.06,1242.28 L933.09,1246.05 L933.11,1249.82 L933.13,1253.59 L933.16,1257.36 L933.18,1261.13 L933.20,1264.89 L933.23,1268.67 L933.25,1272.44 L933.27,1276.21 L933.28,1279.98 L933.30,1283.76 L933.31,1287.54 L933.32,1291.32 L933.32,1295.10 L933.33,1298.89 L933.32,1302.68 L933.31,1306.47 L933.30,1310.27 L933.28,1314.07 L933.26,1317.87 L933.22,1321.68 L933.19,1325.49 L933.14,1329.31 L933.08,1333.13 L933.00,1336.95 L932.90,1340.77 L932.77,1344.59 L932.61,1348.40 L932.42,1352.20 L932.18,1356.00 L931.89,1359.78 L931.55,1363.55 L931.15,1367.31 L930.69,1371.05 L930.16,1374.77 L929.56,1378.47 L928.88,1382.15 L928.12,1385.80 L927.27,1389.43 L926.33,1393.03 L925.29,1396.59 L924.15,1400.13 L922.91,1403.63 L921.55,1407.10 L920.10,1410.52 L918.54,1413.91 L916.89,1417.26 L915.13,1420.56 L913.29,1423.82 L911.35,1427.03 L909.32,1430.19 L907.20,1433.30 L905.00,1436.36 L902.72,1439.36 L900.35,1442.31 L897.91,1445.19 L895.39,1448.02 L892.79,1450.79 L890.12,1453.49 L887.39,1456.13 L884.58,1458.69 L881.71,1461.19 L878.78,1463.62 L875.78,1465.98 L872.73,1468.26 L869.62,1470.46 L866.45,1472.58 L863.23,1474.63 L859.97,1476.59 L856.65,1478.47 L853.29,1480.26 L849.89,1481.96 L846.44,1483.57 L842.96,1485.09 L839.44,1486.52 L835.88,1487.85 L832.29,1489.09 L828.68,1490.23 L825.03,1491.26 L821.36,1492.19 L817.67,1493.02 L813.95,1493.74 L810.22,1494.36 L806.47,1494.86 L802.70,1495.26 L798.93,1495.55 L795.14,1495.74 L791.35,1495.83 L787.56,1495.81 L783.76,1495.69 L779.97,1495.47 L776.18,1495.15 L772.40,1494.74 L768.63,1494.23 L764.87,1493.62 L761.12,1492.91 L757.39,1492.12 L753.68,1491.23 L749.99,1490.24 L746.33,1489.17 L742.70,1488.01 L739.09,1486.76 L735.52,1485.42 L731.98,1484.00 L728.48,1482.49 L725.02,1480.90 L721.61,1479.22 L718.23,1477.46 L714.91,1475.62 L711.64,1473.70 L708.42,1471.71 L705.26,1469.63 L702.15,1467.48 L699.11,1465.25 L696.12,1462.95 L693.21,1460.58 L690.36,1458.13 L687.59,1455.61 L684.89,1453.03 L682.26,1450.37 L679.72,1447.65 L677.25,1444.85 L674.87,1442.00 L672.58,1439.07 L670.37,1436.09 L668.26,1433.04 L666.24,1429.93 L664.32,1426.76 L662.50,1423.53 L660.78,1420.25 L659.15,1416.90 L657.63,1413.51 L656.20,1410.07 L654.85,1406.58 L653.60,1403.05 L652.43,1399.47 L651.34,1395.87 L650.33,1392.22 L649.39,1388.55 L648.52,1384.85 L647.73,1381.13 L647.00,1377.39 L646.33,1373.62 L645.72,1369.84 L645.17,1366.06 L644.67,1362.26 L644.22,1358.45 L643.82,1354.65 L643.47,1350.84 L643.16,1347.04 L642.88,1343.24 L642.65,1339.44 L642.45,1335.65 L642.28,1331.86 L642.14,1328.07 L642.03,1324.29 L641.95,1320.51 L641.89,1316.73 L641.85,1312.95 L641.84,1309.17 L641.84,1305.40 L641.85,1301.62 L641.89,1297.85 L641.93,1294.08 L641.98,1290.31 L642.04,1286.54 L642.10,1282.77 L642.16,1279.01 L642.23,1275.24 L642.29,1271.47 L642.36,1267.70 L642.42,1263.93 L642.47,1260.16 L642.53,1256.39 L642.58,1252.62 L642.63,1248.85 L642.68,1245.08 L642.72,1241.31 L642.77,1237.54 L642.81,1233.77 L642.85,1230.00 L642.88,1226.22 L642.92,1222.45 L642.95,1218.68 L642.98,1214.91 L643.01,1211.13 L643.04,1207.36 L643.06,1203.59 L643.08,1199.81 L643.11,1196.04 L643.13,1192.27 L643.14,1188.49 L643.16,1184.72 L643.18,1180.95 L643.19,1177.17 L643.20,1173.40 L643.21,1169.62 L643.22,1165.85 L643.23,1162.07 L643.23,1158.30 L643.24,1154.52 L643.24,1150.74 L643.24,1146.97 L643.24,1143.19 L643.24,1139.42 L643.24,1135.64 L643.24,1131.86 L643.24,1128.09 L643.23,1124.31 L643.23,1120.53 L643.22,1116.76 L643.21,1112.98 L643.20,1109.20 L643.19,1105.42 L643.18,1101.65 L643.17,1097.87 L643.16,1094.09 L643.15,1090.31 L643.14,1086.53 L643.12,1082.76 L643.11,1078.98 L643.09,1075.20 L643.08,1071.42 L643.06,1067.64 L643.05,1063.86 L643.03,1060.08 L643.02,1056.31 L643.00,1052.53 L642.98,1048.75 L642.96,1044.97 L642.95,1041.19 L642.93,1037.41 L642.91,1033.63 L642.89,1029.85 L642.88,1026.07 L642.86,1022.29 L642.84,1018.51 L642.82,1014.74 L642.80,1010.96 L642.79,1007.18 L642.77,1003.40 L642.75,999.62 L642.74,995.84 L642.72,992.06 L642.70,988.28 L642.69,984.50 L642.67,980.72 L642.66,976.94 L642.65,973.16 L642.63,969.38 L642.62,965.60 L642.61,961.82 L642.59,958.04 L642.58,954.26 L642.57,950.48 L642.56,946.70 L642.56,942.92 L642.55,939.14 L642.54,935.36 L642.54,931.58 L642.53,927.80 L642.53,924.03 L642.52,920.25 L642.52,916.47 L642.52,912.69 L642.52,908.91 L642.52,905.13 L642.52,901.35 L642.52,897.57 L642.52,893.79 L642.52,890.01 L642.52,886.23 L642.53,882.45 L642.53,878.67 L642.53,874.90 L642.54,871.12 L642.54,867.34 L642.55,863.56 L642.55,859.78 L642.56,856.00 L642.57,852.22 L642.57,848.44 L642.58,844.67 L642.59,840.89 L642.60,837.11 L642.60,833.33 L642.61,829.55 L642.62,825.77 L642.63,822.00 L642.64,818.22 L642.65,814.44 L642.65,810.66 L642.66,806.88 L642.67,803.11 L642.68,799.33 L642.69,795.55 L642.70,791.77 L642.71,788.00 L642.72,784.22 L642.73,780.44 L642.73,776.66 L642.74,772.89 L642.75,769.11 L642.76,765.33 L642.77,761.55 L642.77,757.78 L642.78,754.00 L642.79,750.22 L642.79,746.45 L642.80,742.67 L642.81,738.89 L642.81,735.12 L642.82,731.34 L642.82,727.56 L642.83,723.79 L642.83,720.01 L642.83,716.23 L642.84,712.46 L642.84,708.68 L642.84,704.91 L642.84,701.13 L642.84,697.35 L642.84,693.58 L642.84,689.80 L642.84,686.03 L642.83,682.25 L642.83,678.48 L642.83,674.70 L642.82,670.93 L642.82,667.15 L642.81,663.38 L642.80,659.60 L642.80,655.83 L642.79,652.05 L642.78,648.28 L642.77,644.50 L642.75,640.73 L642.74,636.96 L642.73,633.18 L642.71,629.41 L642.69,625.63 L642.68,621.86 L642.66,618.09 L642.64,614.31 L642.62,610.54 L642.60,606.77 L642.57,602.99 L642.55,599.22 L642.52,595.45 L642.50,591.67 L642.47,587.90 L642.45,584.13 L642.42,580.35 L642.40,576.58 L642.37,572.81 L642.35,569.03 L642.32,565.26 L642.30,561.48 L642.28,557.71 L642.26,553.93 L642.24,550.15 L642.23,546.38 L642.21,542.60 L642.20,538.82 L642.19,535.04 L642.18,531.26 L642.18,527.48 L642.18,523.70 L642.18,519.92 L642.19,516.13 L642.20,512.35 L642.21,508.57 L642.23,504.78 L642.25,500.99 L642.28,497.20 L642.31,493.41 L642.34,489.62 L642.38,485.83 L642.43,482.04 L642.48,478.24 L642.54,474.45 L642.60,470.65 L642.67,466.85 L642.74,463.05 L642.82,459.25 L642.91,455.45 L643.00,451.64 L643.11,447.84 L643.22,444.03 L643.33,440.22 L643.45,436.40 L643.59,432.59 L643.75,428.79 L643.98,425.01 L644.31,421.27 L644.79,417.60 L645.45,414.01 L646.33,410.52 L647.46,407.14 L648.89,403.90 L650.66,400.82 L652.80,397.90 L655.33,395.18 L658.22,392.65 L661.38,390.33 L664.76,388.21 L668.29,386.32 L671.90,384.66 L675.57,383.20 L679.28,381.93 L683.01,380.82 L686.77,379.85 L690.54,378.98 L694.31,378.19 L698.06,377.45 L701.80,376.76 L705.53,376.12 L709.25,375.52 L712.96,374.96 L716.67,374.44 L720.37,373.97 L724.07,373.53 L727.78,373.13 L731.49,372.76 L735.20,372.43 L738.92,372.14 L742.66,371.87 L746.40,371.64 L750.16,371.44 L753.93,371.27 L757.71,371.13 L761.49,371.01 L765.28,370.92 L769.08,370.85 L772.88,370.81 L776.68,370.79 L780.47,370.78 L784.27,370.80Z" fill="none" stroke="#666a73" stroke-width="1.7"/>
<circle cx="712.1" cy="492.9" r="44.7" fill="none" stroke="#9aa3b3" stroke-opacity="0.5" stroke-width="1.2"/>
<circle cx="712.1" cy="492.9" r="40.4" fill="none" stroke="#9aa3b3" stroke-opacity="0.55" stroke-width="1.2"/>
<circle cx="712.1" cy="492.9" r="42.6" fill="none" stroke="#fbfcff" stroke-width="3"/>
<circle cx="862.4" cy="493.1" r="44.7" fill="none" stroke="#9aa3b3" stroke-opacity="0.5" stroke-width="1.2"/>
<circle cx="862.4" cy="493.1" r="40.4" fill="none" stroke="#9aa3b3" stroke-opacity="0.55" stroke-width="1.2"/>
<circle cx="862.4" cy="493.1" r="42.6" fill="none" stroke="#fbfcff" stroke-width="3"/>
<circle cx="712" cy="647.5" r="44.7" fill="none" stroke="#9aa3b3" stroke-opacity="0.5" stroke-width="1.2"/>
<circle cx="712" cy="647.5" r="40.4" fill="none" stroke="#9aa3b3" stroke-opacity="0.55" stroke-width="1.2"/>
<circle cx="712" cy="647.5" r="42.6" fill="none" stroke="#fbfcff" stroke-width="3"/>
<circle cx="862" cy="647.7" r="44.7" fill="none" stroke="#9aa3b3" stroke-opacity="0.5" stroke-width="1.2"/>
<circle cx="862" cy="647.7" r="40.4" fill="none" stroke="#9aa3b3" stroke-opacity="0.55" stroke-width="1.2"/>
<circle cx="862" cy="647.7" r="42.6" fill="none" stroke="#fbfcff" stroke-width="3"/>
<circle cx="711.4" cy="802.2" r="44.7" fill="none" stroke="#9aa3b3" stroke-opacity="0.5" stroke-width="1.2"/>
<circle cx="711.4" cy="802.2" r="40.4" fill="none" stroke="#9aa3b3" stroke-opacity="0.55" stroke-width="1.2"/>
<circle cx="711.4" cy="802.2" r="42.6" fill="none" stroke="#fbfcff" stroke-width="3"/>
<circle cx="861.7" cy="802.2" r="44.7" fill="none" stroke="#9aa3b3" stroke-opacity="0.5" stroke-width="1.2"/>
<circle cx="861.7" cy="802.2" r="40.4" fill="none" stroke="#9aa3b3" stroke-opacity="0.55" stroke-width="1.2"/>
<circle cx="861.7" cy="802.2" r="42.6" fill="none" stroke="#fbfcff" stroke-width="3"/>
<circle cx="711.2" cy="957.4" r="44.7" fill="none" stroke="#9aa3b3" stroke-opacity="0.5" stroke-width="1.2"/>
<circle cx="711.2" cy="957.4" r="40.4" fill="none" stroke="#9aa3b3" stroke-opacity="0.55" stroke-width="1.2"/>
<circle cx="711.2" cy="957.4" r="42.6" fill="none" stroke="#fbfcff" stroke-width="3"/>
<circle cx="861.4" cy="957.4" r="44.7" fill="none" stroke="#9aa3b3" stroke-opacity="0.5" stroke-width="1.2"/>
<circle cx="861.4" cy="957.4" r="40.4" fill="none" stroke="#9aa3b3" stroke-opacity="0.55" stroke-width="1.2"/>
<circle cx="861.4" cy="957.4" r="42.6" fill="none" stroke="#fbfcff" stroke-width="3"/>
<circle cx="711" cy="1112.7" r="44.7" fill="none" stroke="#9aa3b3" stroke-opacity="0.5" stroke-width="1.2"/>
<circle cx="711" cy="1112.7" r="40.4" fill="none" stroke="#9aa3b3" stroke-opacity="0.55" stroke-width="1.2"/>
<circle cx="711" cy="1112.7" r="42.6" fill="none" stroke="#fbfcff" stroke-width="3"/>
<circle cx="861.6" cy="1112.7" r="44.7" fill="none" stroke="#9aa3b3" stroke-opacity="0.5" stroke-width="1.2"/>
<circle cx="861.6" cy="1112.7" r="40.4" fill="none" stroke="#9aa3b3" stroke-opacity="0.55" stroke-width="1.2"/>
<circle cx="861.6" cy="1112.7" r="42.6" fill="none" stroke="#fbfcff" stroke-width="3"/>
<circle cx="709.7" cy="1267.25" r="44.7" fill="none" stroke="#9aa3b3" stroke-opacity="0.5" stroke-width="1.2"/>
<circle cx="709.7" cy="1267.25" r="40.4" fill="none" stroke="#9aa3b3" stroke-opacity="0.55" stroke-width="1.2"/>
<circle cx="709.7" cy="1267.25" r="42.6" fill="none" stroke="#fbfcff" stroke-width="3"/>
<path d="M677,492.9 L718,492.9 L732,484.8" fill="none" stroke="#f6f8fc" stroke-width="6.2" stroke-linecap="round" stroke-linejoin="round"/><path d="M677,492.9 L718,492.9 L732,484.8" fill="none" stroke="#dfe5ee" stroke-width="3.6" stroke-linecap="round" stroke-linejoin="round"/><path d="M709.5,487.9 L731.8,481.6" fill="none" stroke="#f6f8fc" stroke-width="5.4" stroke-linecap="round" stroke-linejoin="round"/><path d="M709.5,487.9 L731.8,481.6" fill="none" stroke="#c4cedd" stroke-width="2.8000000000000003" stroke-linecap="round" stroke-linejoin="round"/><circle cx="740.6" cy="478.6" r="4.6" fill="#d9e0ea" stroke="#f4f6fa" stroke-width="1.3"/><polygon points="726.7,500.3 718.6,511.8 735.5,511.8" fill="#e1e6ee" stroke="#eef2f7" stroke-width="0.8" stroke-linejoin="round"/>
<path d="M828,492.9 L858.5,492.9 L883,483.6" fill="none" stroke="#f6f8fc" stroke-width="6.2" stroke-linecap="round" stroke-linejoin="round"/><path d="M828,492.9 L858.5,492.9 L883,483.6" fill="none" stroke="#dfe5ee" stroke-width="3.6" stroke-linecap="round" stroke-linejoin="round"/><path d="M860.5,487.9 L883,481.6" fill="none" stroke="#f6f8fc" stroke-width="5.4" stroke-linecap="round" stroke-linejoin="round"/><path d="M860.5,487.9 L883,481.6" fill="none" stroke="#c4cedd" stroke-width="2.8000000000000003" stroke-linecap="round" stroke-linejoin="round"/><circle cx="891.6" cy="478.8" r="4.6" fill="#d9e0ea" stroke="#f4f6fa" stroke-width="1.3"/><polygon points="871.2,500.2 888,500.2 879.1,511.2" fill="#e1e6ee" stroke="#eef2f7" stroke-width="0.8" stroke-linejoin="round"/>
<path d="M678.2,641.8 L693.3,633.6 L707,640.8 L734,641.6" fill="none" stroke="#f6f8fc" stroke-width="6.2" stroke-linecap="round" stroke-linejoin="round"/><path d="M678.2,641.8 L693.3,633.6 L707,640.8 L734,641.6" fill="none" stroke="#dfe5ee" stroke-width="3.6" stroke-linecap="round" stroke-linejoin="round"/><path d="M709.5,637.6 L718,639 L733,639.6" fill="none" stroke="#f6f8fc" stroke-width="5.4" stroke-linecap="round" stroke-linejoin="round"/><path d="M709.5,637.6 L718,639 L733,639.6" fill="none" stroke="#c4cedd" stroke-width="2.8000000000000003" stroke-linecap="round" stroke-linejoin="round"/><circle cx="742.6" cy="640.6" r="4.6" fill="#d9e0ea" stroke="#f4f6fa" stroke-width="1.3"/><polygon points="696.1,653.6 688.2,664.6 705,664.6" fill="#e1e6ee" stroke="#eef2f7" stroke-width="0.8" stroke-linejoin="round"/>
<path d="M830.5,643.2 L843.7,633 L858.5,641 L885,641.4" fill="none" stroke="#f6f8fc" stroke-width="6.2" stroke-linecap="round" stroke-linejoin="round"/><path d="M830.5,643.2 L843.7,633 L858.5,641 L885,641.4" fill="none" stroke="#dfe5ee" stroke-width="3.6" stroke-linecap="round" stroke-linejoin="round"/><path d="M860,637.4 L868,639 L884,639.4" fill="none" stroke="#f6f8fc" stroke-width="5.4" stroke-linecap="round" stroke-linejoin="round"/><path d="M860,637.4 L868,639 L884,639.4" fill="none" stroke="#c4cedd" stroke-width="2.8000000000000003" stroke-linecap="round" stroke-linejoin="round"/><circle cx="893.3" cy="638.5" r="4.6" fill="#d9e0ea" stroke="#f4f6fa" stroke-width="1.3"/><polygon points="840.9,653.6 857.4,653.6 848.8,664.3" fill="#e1e6ee" stroke="#eef2f7" stroke-width="0.8" stroke-linejoin="round"/>
<path d="M676.3,806.8 L690.3,796.8 L708.4,807.4 L729.5,796" fill="none" stroke="#f6f8fc" stroke-width="6.2" stroke-linecap="round" stroke-linejoin="round"/><path d="M676.3,806.8 L690.3,796.8 L708.4,807.4 L729.5,796" fill="none" stroke="#dfe5ee" stroke-width="3.6" stroke-linecap="round" stroke-linejoin="round"/><path d="M707.5,802.3 L730,792.6" fill="none" stroke="#f6f8fc" stroke-width="5.4" stroke-linecap="round" stroke-linejoin="round"/><path d="M707.5,802.3 L730,792.6" fill="none" stroke="#c4cedd" stroke-width="2.8000000000000003" stroke-linecap="round" stroke-linejoin="round"/><circle cx="739" cy="787.8" r="4.6" fill="#d9e0ea" stroke="#f4f6fa" stroke-width="1.3"/><polygon points="696.1,813.1 688.2,823.7 704.3,823.7" fill="#e1e6ee" stroke="#eef2f7" stroke-width="0.8" stroke-linejoin="round"/><polygon points="726.3,813.1 717.8,823.7 734.6,823.7" fill="#e1e6ee" stroke="#eef2f7" stroke-width="0.8" stroke-linejoin="round"/>
<path d="M827.3,805.8 L840.6,795 L858.3,806.4 L879.5,795.5" fill="none" stroke="#f6f8fc" stroke-width="6.2" stroke-linecap="round" stroke-linejoin="round"/><path d="M827.3,805.8 L840.6,795 L858.3,806.4 L879.5,795.5" fill="none" stroke="#dfe5ee" stroke-width="3.6" stroke-linecap="round" stroke-linejoin="round"/><path d="M857.5,801.6 L880,792" fill="none" stroke="#f6f8fc" stroke-width="5.4" stroke-linecap="round" stroke-linejoin="round"/><path d="M857.5,801.6 L880,792" fill="none" stroke="#c4cedd" stroke-width="2.8000000000000003" stroke-linecap="round" stroke-linejoin="round"/><circle cx="889" cy="786.4" r="4.6" fill="#d9e0ea" stroke="#f4f6fa" stroke-width="1.3"/><polygon points="837.5,812.7 854.7,812.7 846.1,823.7" fill="#e1e6ee" stroke="#eef2f7" stroke-width="0.8" stroke-linejoin="round"/><polygon points="869.1,812.7 885.6,812.7 877.4,823.7" fill="#e1e6ee" stroke="#eef2f7" stroke-width="0.8" stroke-linejoin="round"/>
<path d="M676,949 L733.8,949" fill="none" stroke="#f6f8fc" stroke-width="6.2" stroke-linecap="round" stroke-linejoin="round"/><path d="M676,949 L733.8,949" fill="none" stroke="#dfe5ee" stroke-width="3.6" stroke-linecap="round" stroke-linejoin="round"/><path d="M708,944.8 L716,946.2 L733,946.4" fill="none" stroke="#f6f8fc" stroke-width="5.4" stroke-linecap="round" stroke-linejoin="round"/><path d="M708,944.8 L716,946.2 L733,946.4" fill="none" stroke="#c4cedd" stroke-width="2.8000000000000003" stroke-linecap="round" stroke-linejoin="round"/><circle cx="741.4" cy="947.3" r="4.6" fill="#d9e0ea" stroke="#f4f6fa" stroke-width="1.3"/><polygon points="710.9,961.5 702.6,972.9 719.1,972.9" fill="#e1e6ee" stroke="#eef2f7" stroke-width="0.8" stroke-linejoin="round"/>
<path d="M828,948.4 L885.3,948.4" fill="none" stroke="#f6f8fc" stroke-width="6.2" stroke-linecap="round" stroke-linejoin="round"/><path d="M828,948.4 L885.3,948.4" fill="none" stroke="#dfe5ee" stroke-width="3.6" stroke-linecap="round" stroke-linejoin="round"/><path d="M859.5,944.2 L868,945.8 L884.5,946" fill="none" stroke="#f6f8fc" stroke-width="5.4" stroke-linecap="round" stroke-linejoin="round"/><path d="M859.5,944.2 L868,945.8 L884.5,946" fill="none" stroke="#c4cedd" stroke-width="2.8000000000000003" stroke-linecap="round" stroke-linejoin="round"/><circle cx="893" cy="946.8" r="4.6" fill="#d9e0ea" stroke="#f4f6fa" stroke-width="1.3"/><polygon points="854,960.8 870.8,960.8 862.6,972.2" fill="#e1e6ee" stroke="#eef2f7" stroke-width="0.8" stroke-linejoin="round"/>
<path d="M678.6,1125.4 L729.5,1106" fill="none" stroke="#f6f8fc" stroke-width="6.2" stroke-linecap="round" stroke-linejoin="round"/><path d="M678.6,1125.4 L729.5,1106" fill="none" stroke="#dfe5ee" stroke-width="3.6" stroke-linecap="round" stroke-linejoin="round"/><path d="M706,1110.5 L713,1110.3 L731,1102.6" fill="none" stroke="#f6f8fc" stroke-width="5.4" stroke-linecap="round" stroke-linejoin="round"/><path d="M706,1110.5 L713,1110.3 L731,1102.6" fill="none" stroke="#c4cedd" stroke-width="2.8000000000000003" stroke-linecap="round" stroke-linejoin="round"/><circle cx="739" cy="1101.8" r="4.6" fill="#d9e0ea" stroke="#f4f6fa" stroke-width="1.3"/>
<path d="M832.6,1098.2 L878.5,1123.4" fill="none" stroke="#f6f8fc" stroke-width="6.2" stroke-linecap="round" stroke-linejoin="round"/><path d="M832.6,1098.2 L878.5,1123.4" fill="none" stroke="#dfe5ee" stroke-width="3.6" stroke-linecap="round" stroke-linejoin="round"/><path d="M861.5,1106.2 L866,1110.5 L879.5,1118" fill="none" stroke="#f6f8fc" stroke-width="5.4" stroke-linecap="round" stroke-linejoin="round"/><path d="M861.5,1106.2 L866,1110.5 L879.5,1118" fill="none" stroke="#c4cedd" stroke-width="2.8000000000000003" stroke-linecap="round" stroke-linejoin="round"/><circle cx="889.6" cy="1125.2" r="4.6" fill="#d9e0ea" stroke="#f4f6fa" stroke-width="1.3"/>
<text x="678.6" y="1279" font-family="Liberation Sans" font-size="30" fill="#6a1c45" stroke="#f3d3e6" stroke-width="2.6" paint-order="stroke">CPR</text>
<g font-family="Liberation Sans" fill="#050505" stroke="#050505" stroke-width="0.6">
<text x="152.6" y="469.75" font-size="37.4" text-anchor="start" >1: Back up button</text>
<text x="1442" y="476.7" font-size="37.7" text-anchor="end" >2: Back down button</text>
<text x="151.5" y="623.2" font-size="37.3" text-anchor="start" >3: Leg up button</text>
<text x="1444.6" y="622.8" font-size="37.4" text-anchor="end" >4: Leg down button</text>
<text x="374.1" y="758.5" font-size="37.3" text-anchor="middle" >5: Back and leg linkage up</text>
<text x="374.1" y="807.5" font-size="37.3" text-anchor="middle" >(auto-contour) button</text>
<text x="1448.5" y="762.5" font-size="37.2" text-anchor="end" >6: Back and leg linkage down</text>
<text x="1448.5" y="811" font-size="37.2" text-anchor="end" >(auto-contour) button</text>
<text x="157.1" y="961" font-size="37.2" text-anchor="start" >7: Whole bed up button</text>
<text x="1444.6" y="965" font-size="37.6" text-anchor="end" >8: Whole down button</text>
<text x="150.1" y="1122.2" font-size="37.2" text-anchor="start" >9: Reverse trendelenburd</text>
<text x="1444.3" y="1126.2" font-size="37.3" text-anchor="end" >10: Trendelenburg</text>
</g>
<line x1="717.8" y1="492.8" x2="137" y2="492.8" stroke="#383b45" stroke-width="3.8" stroke-dasharray="15.7 8.3"/>
<line x1="880" y1="493" x2="1461" y2="493" stroke="#383b45" stroke-width="3.8" stroke-dasharray="15.7 8.3"/>
<line x1="717.8" y1="644.1" x2="137" y2="644.1" stroke="#383b45" stroke-width="3.8" stroke-dasharray="15.7 8.3"/>
<line x1="880" y1="643" x2="1461" y2="643" stroke="#383b45" stroke-width="3.8" stroke-dasharray="15.7 8.3"/>
<rect x="678.90" y="800.00" width="3.80" height="15.50" fill="#383b45"/>
<rect x="678.90" y="824.00" width="3.80" height="6.00" fill="#383b45"/>
<line x1="137.5" y1="828.1" x2="682.7" y2="828.1" stroke="#383b45" stroke-width="3.8" stroke-dasharray="15.7 8.3"/>
<rect x="880.50" y="801.00" width="3.80" height="9.00" fill="#383b45"/>
<rect x="880.50" y="818.90" width="3.80" height="11.10" fill="#383b45"/>
<line x1="893.2" y1="828.1" x2="1461" y2="828.1" stroke="#383b45" stroke-width="3.8" stroke-dasharray="15.7 8.3"/>
<rect x="678.80" y="952.90" width="3.80" height="15.85" fill="#383b45"/>
<rect x="678.80" y="977.00" width="3.80" height="6.20" fill="#383b45"/>
<line x1="137.5" y1="981.5" x2="682.7" y2="981.5" stroke="#383b45" stroke-width="3.8" stroke-dasharray="15.7 8.3"/>
<rect x="880.30" y="954.30" width="3.80" height="9.30" fill="#383b45"/>
<rect x="880.30" y="972.20" width="3.80" height="10.60" fill="#383b45"/>
<line x1="893.2" y1="981.1" x2="1461" y2="981.1" stroke="#383b45" stroke-width="3.8" stroke-dasharray="15.7 8.3"/>
<rect x="678.90" y="1114.00" width="3.80" height="15.60" fill="#383b45"/>
<rect x="678.90" y="1138.00" width="3.80" height="5.90" fill="#383b45"/>
<line x1="137.5" y1="1142.2" x2="682.7" y2="1142.2" stroke="#383b45" stroke-width="3.8" stroke-dasharray="15.7 8.3"/>
<rect x="880.30" y="1115.30" width="3.80" height="9.30" fill="#383b45"/>
<rect x="880.30" y="1133.20" width="3.80" height="10.70" fill="#383b45"/>
<line x1="893.2" y1="1142.2" x2="1461" y2="1142.2" stroke="#383b45" stroke-width="3.8" stroke-dasharray="15.7 8.3"/>
<rect x="99.70" y="471.30" width="37.20" height="9.80" fill="#383b45"/><rect x="113.40" y="457.60" width="9.80" height="37.20" fill="#383b45"/>
<rect x="1460.90" y="467.40" width="37.20" height="9.80" fill="#383b45"/><rect x="1474.60" y="453.70" width="9.80" height="37.20" fill="#383b45"/>
<rect x="99.50" y="622.70" width="37.20" height="9.80" fill="#383b45"/><rect x="113.20" y="609.00" width="9.80" height="37.20" fill="#383b45"/>
<rect x="1460.90" y="617.60" width="37.20" height="9.80" fill="#383b45"/><rect x="1474.60" y="603.90" width="9.80" height="37.20" fill="#383b45"/>
<rect x="99.50" y="802.60" width="37.20" height="9.80" fill="#383b45"/><rect x="113.20" y="788.90" width="9.80" height="37.20" fill="#383b45"/>
<rect x="1482.40" y="806.70" width="37.20" height="9.80" fill="#383b45"/><rect x="1496.10" y="793.00" width="9.80" height="37.20" fill="#383b45"/>
<rect x="99.50" y="956.20" width="37.20" height="9.80" fill="#383b45"/><rect x="113.20" y="942.50" width="9.80" height="37.20" fill="#383b45"/>
<rect x="1482.30" y="960.00" width="37.20" height="9.80" fill="#383b45"/><rect x="1496.00" y="946.30" width="9.80" height="37.20" fill="#383b45"/>
<rect x="99.50" y="1117.00" width="37.20" height="9.80" fill="#383b45"/><rect x="113.20" y="1103.30" width="9.80" height="37.20" fill="#383b45"/>
<rect x="1482.30" y="1121.00" width="37.20" height="9.80" fill="#383b45"/><rect x="1496.00" y="1107.30" width="9.80" height="37.20" fill="#383b45"/>
</svg>
</body></html>
